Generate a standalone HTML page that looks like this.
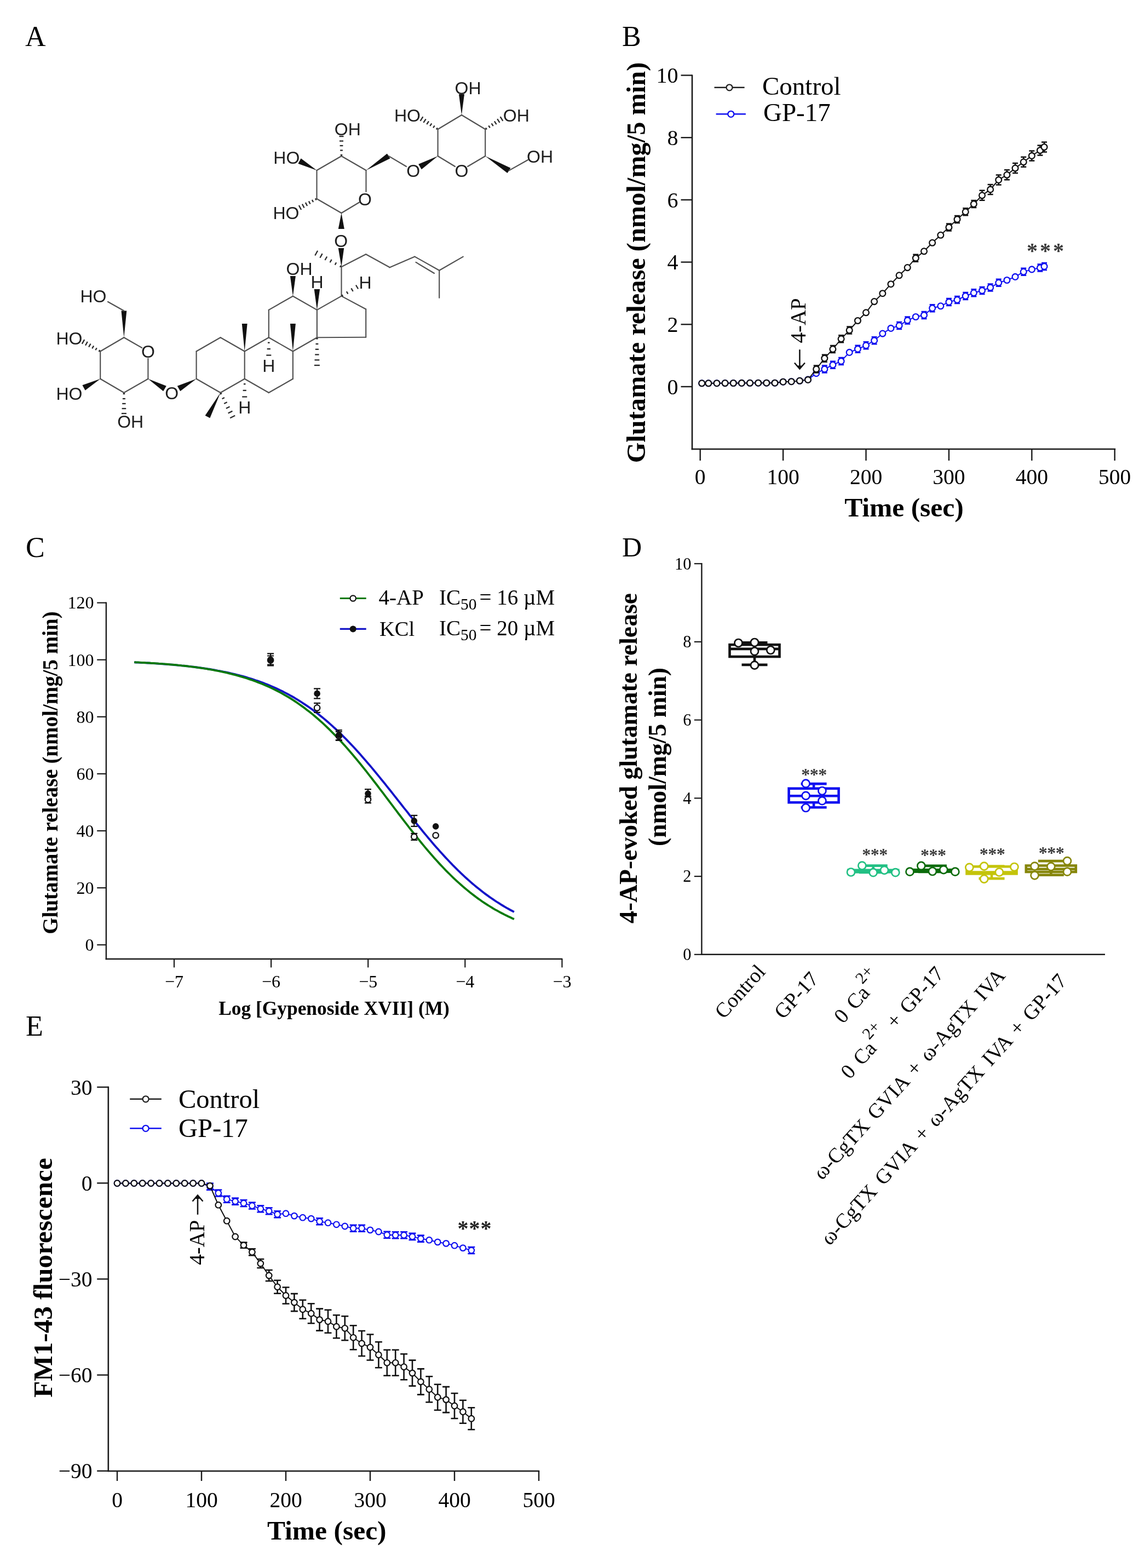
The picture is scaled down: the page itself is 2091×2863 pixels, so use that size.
<!DOCTYPE html>
<html><head><meta charset="utf-8"><title>Figure</title>
<style>html,body{margin:0;padding:0;background:#fff;overflow:hidden;width:2091px;height:2863px;}svg{display:block;}</style></head>
<body><svg width="2091" height="2863" viewBox="0 0 2091 2863">
<rect width="2091" height="2863" fill="#fff"/>
<text x="46" y="83.5" font-size="52" font-family="'Liberation Serif','Times New Roman',serif" text-anchor="start" fill="#000" >A</text>
<line x1="358.6" y1="691.8" x2="358.6" y2="641.5" stroke="#505050" stroke-width="2.15" stroke-linecap="round"/>
<line x1="358.6" y1="641.5" x2="402.6" y2="616.3" stroke="#505050" stroke-width="2.15" stroke-linecap="round"/>
<line x1="402.6" y1="616.3" x2="446.7" y2="641.5" stroke="#505050" stroke-width="2.15" stroke-linecap="round"/>
<line x1="446.7" y1="641.5" x2="446.7" y2="691.8" stroke="#505050" stroke-width="2.15" stroke-linecap="round"/>
<line x1="446.7" y1="691.8" x2="402.6" y2="717" stroke="#505050" stroke-width="2.15" stroke-linecap="round"/>
<line x1="402.6" y1="717" x2="358.6" y2="691.8" stroke="#505050" stroke-width="2.15" stroke-linecap="round"/>
<line x1="446.7" y1="641.5" x2="490.8" y2="616.3" stroke="#505050" stroke-width="2.15" stroke-linecap="round"/>
<line x1="490.8" y1="616.3" x2="534.9" y2="641.5" stroke="#505050" stroke-width="2.15" stroke-linecap="round"/>
<line x1="534.9" y1="641.5" x2="534.9" y2="691.8" stroke="#505050" stroke-width="2.15" stroke-linecap="round"/>
<line x1="534.9" y1="691.8" x2="490.8" y2="717" stroke="#505050" stroke-width="2.15" stroke-linecap="round"/>
<line x1="490.8" y1="717" x2="446.7" y2="691.8" stroke="#505050" stroke-width="2.15" stroke-linecap="round"/>
<line x1="490.8" y1="616.3" x2="490.8" y2="565.9" stroke="#505050" stroke-width="2.15" stroke-linecap="round"/>
<line x1="490.8" y1="565.9" x2="534.9" y2="540.7" stroke="#505050" stroke-width="2.15" stroke-linecap="round"/>
<line x1="534.9" y1="540.7" x2="578.9" y2="565.9" stroke="#505050" stroke-width="2.15" stroke-linecap="round"/>
<line x1="578.9" y1="565.9" x2="578.9" y2="616.3" stroke="#505050" stroke-width="2.15" stroke-linecap="round"/>
<line x1="578.9" y1="616.3" x2="534.9" y2="641.5" stroke="#505050" stroke-width="2.15" stroke-linecap="round"/>
<line x1="578.9" y1="616.3" x2="668.2" y2="615.7" stroke="#505050" stroke-width="2.15" stroke-linecap="round"/>
<line x1="668.2" y1="615.7" x2="668.2" y2="564.5" stroke="#505050" stroke-width="2.15" stroke-linecap="round"/>
<line x1="668.2" y1="564.5" x2="623.5" y2="540.6" stroke="#505050" stroke-width="2.15" stroke-linecap="round"/>
<line x1="623.5" y1="540.6" x2="578.9" y2="565.9" stroke="#505050" stroke-width="2.15" stroke-linecap="round"/>
<line x1="623.5" y1="540.6" x2="623.5" y2="487.2" stroke="#505050" stroke-width="2.15" stroke-linecap="round"/>
<line x1="623.5" y1="487.2" x2="668.2" y2="464.3" stroke="#505050" stroke-width="2.15" stroke-linecap="round"/>
<line x1="668.2" y1="464.3" x2="711.8" y2="488.3" stroke="#505050" stroke-width="2.15" stroke-linecap="round"/>
<line x1="711.8" y1="488.3" x2="757.5" y2="468.6" stroke="#505050" stroke-width="2.15" stroke-linecap="round"/>
<line x1="757.5" y1="468.6" x2="802.2" y2="493.7" stroke="#505050" stroke-width="2.15" stroke-linecap="round"/>
<line x1="802.2" y1="493.7" x2="845.8" y2="468.6" stroke="#505050" stroke-width="2.15" stroke-linecap="round"/>
<line x1="802.2" y1="493.7" x2="802.2" y2="543.8" stroke="#505050" stroke-width="2.15" stroke-linecap="round"/>
<line x1="759.5" y1="478.9" x2="793" y2="499" stroke="#505050" stroke-width="2.15" stroke-linecap="round"/>
<polygon points="446.7,641.5 451.6,591.1 441.8,591.1" fill="#111"/>
<polygon points="534.9,641.5 539.9,591.1 529.9,591.1" fill="#111"/>
<line x1="580.7" y1="618.3" x2="577.1" y2="618.3" stroke="#2a2a2a" stroke-width="2.3" />
<line x1="581.3" y1="628" x2="576.5" y2="628" stroke="#2a2a2a" stroke-width="2.3" />
<line x1="582" y1="637.8" x2="575.8" y2="637.8" stroke="#2a2a2a" stroke-width="2.3" />
<line x1="582.6" y1="647.5" x2="575.2" y2="647.5" stroke="#2a2a2a" stroke-width="2.3" />
<line x1="583.3" y1="657.3" x2="574.5" y2="657.3" stroke="#2a2a2a" stroke-width="2.3" />
<line x1="583.9" y1="667" x2="573.9" y2="667" stroke="#2a2a2a" stroke-width="2.3" />
<line x1="492.6" y1="625.7" x2="489" y2="625.7" stroke="#2a2a2a" stroke-width="2.3" />
<line x1="493.9" y1="637.1" x2="487.7" y2="637.1" stroke="#2a2a2a" stroke-width="2.3" />
<line x1="495.3" y1="648.6" x2="486.3" y2="648.6" stroke="#2a2a2a" stroke-width="2.3" />
<text x="490.8" y="678.9" font-size="32" font-family="'Liberation Sans',Arial,sans-serif" text-anchor="middle" fill="#1e1e1e" >H</text>
<line x1="448.5" y1="701.2" x2="444.9" y2="701.2" stroke="#2a2a2a" stroke-width="2.3" />
<line x1="449.8" y1="712.9" x2="443.6" y2="712.9" stroke="#2a2a2a" stroke-width="2.3" />
<line x1="451.2" y1="724.5" x2="442.2" y2="724.5" stroke="#2a2a2a" stroke-width="2.3" />
<text x="446.7" y="755.2" font-size="32" font-family="'Liberation Sans',Arial,sans-serif" text-anchor="middle" fill="#1e1e1e" >H</text>
<polygon points="402.6,717 374.6,758.7 383.4,763.3" fill="#111"/>
<line x1="405.1" y1="718" x2="401.9" y2="719.6" stroke="#2a2a2a" stroke-width="2.3" />
<line x1="409.9" y1="726.1" x2="405.6" y2="728.3" stroke="#2a2a2a" stroke-width="2.3" />
<line x1="414.7" y1="734.3" x2="409.2" y2="737.1" stroke="#2a2a2a" stroke-width="2.3" />
<line x1="419.5" y1="742.4" x2="412.9" y2="745.8" stroke="#2a2a2a" stroke-width="2.3" />
<line x1="424.4" y1="750.6" x2="416.6" y2="754.5" stroke="#2a2a2a" stroke-width="2.3" />
<line x1="429.2" y1="758.8" x2="420.2" y2="763.2" stroke="#2a2a2a" stroke-width="2.3" />
<polygon points="534.9,540.7 539.9,504 529.9,504" fill="#111"/>
<text x="546.6" y="501.9" font-size="32" font-family="'Liberation Sans',Arial,sans-serif" text-anchor="middle" fill="#1e1e1e" >OH</text>
<polygon points="578.9,565.9 584.1,528 573.7,528" fill="#111"/>
<text x="579" y="526.3" font-size="32" font-family="'Liberation Sans',Arial,sans-serif" text-anchor="middle" fill="#1e1e1e" >H</text>
<line x1="624.3" y1="538" x2="626.1" y2="541.1" stroke="#2a2a2a" stroke-width="2.3" />
<line x1="632.9" y1="532.2" x2="635.4" y2="536.6" stroke="#2a2a2a" stroke-width="2.3" />
<line x1="641.4" y1="526.4" x2="644.7" y2="532" stroke="#2a2a2a" stroke-width="2.3" />
<line x1="650" y1="520.5" x2="654" y2="527.5" stroke="#2a2a2a" stroke-width="2.3" />
<text x="667.1" y="526.5" font-size="32" font-family="'Liberation Sans',Arial,sans-serif" text-anchor="middle" fill="#1e1e1e" >H</text>
<line x1="620.9" y1="487.8" x2="622.6" y2="484.7" stroke="#2a2a2a" stroke-width="2.3" />
<line x1="611.8" y1="483.6" x2="614.1" y2="479.3" stroke="#2a2a2a" stroke-width="2.3" />
<line x1="602.6" y1="479.3" x2="605.6" y2="473.9" stroke="#2a2a2a" stroke-width="2.3" />
<line x1="593.5" y1="475" x2="597.1" y2="468.5" stroke="#2a2a2a" stroke-width="2.3" />
<line x1="584.4" y1="470.8" x2="588.6" y2="463.1" stroke="#2a2a2a" stroke-width="2.3" />
<line x1="575.3" y1="466.5" x2="580.1" y2="457.7" stroke="#2a2a2a" stroke-width="2.3" />
<polygon points="623.5,487.2 628.2,452.9 617.8,453.1" fill="#111"/>
<text x="622.6" y="450.7" font-size="32" font-family="'Liberation Sans',Arial,sans-serif" text-anchor="middle" fill="#1e1e1e" >O</text>
<polygon points="358.6,691.8 323.8,704.7 329.2,714.3" fill="#111"/>
<text x="313.7" y="728.5" font-size="32" font-family="'Liberation Sans',Arial,sans-serif" text-anchor="middle" fill="#1e1e1e" >O</text>
<line x1="226.4" y1="616.3" x2="259.1" y2="635" stroke="#505050" stroke-width="2.15" stroke-linecap="round"/>
<line x1="270.4" y1="654.5" x2="270.4" y2="691.8" stroke="#505050" stroke-width="2.15" stroke-linecap="round"/>
<line x1="270.4" y1="691.8" x2="226.4" y2="717" stroke="#505050" stroke-width="2.15" stroke-linecap="round"/>
<line x1="226.4" y1="717" x2="183.2" y2="691.8" stroke="#505050" stroke-width="2.15" stroke-linecap="round"/>
<line x1="183.2" y1="691.8" x2="183.2" y2="641.5" stroke="#505050" stroke-width="2.15" stroke-linecap="round"/>
<line x1="183.2" y1="641.5" x2="226.4" y2="616.3" stroke="#505050" stroke-width="2.15" stroke-linecap="round"/>
<text x="270.4" y="653" font-size="32" font-family="'Liberation Sans',Arial,sans-serif" text-anchor="middle" fill="#1e1e1e" >O</text>
<polygon points="270.4,691.8 298.2,714.3 303.8,704.7" fill="#111"/>
<polygon points="226.4,616.3 231.3,567.5 221.5,567.5" fill="#111"/>
<line x1="226.4" y1="567.5" x2="197" y2="551" stroke="#505050" stroke-width="2.15" stroke-linecap="round"/>
<text x="170.5" y="552.2" font-size="32" font-family="'Liberation Sans',Arial,sans-serif" text-anchor="middle" fill="#1e1e1e" >HO</text>
<line x1="180.6" y1="642.1" x2="182.3" y2="639" stroke="#2a2a2a" stroke-width="2.3" />
<line x1="174.4" y1="639.3" x2="176.7" y2="635.2" stroke="#2a2a2a" stroke-width="2.3" />
<line x1="168.3" y1="636.4" x2="171.1" y2="631.4" stroke="#2a2a2a" stroke-width="2.3" />
<line x1="162.1" y1="633.6" x2="165.5" y2="627.6" stroke="#2a2a2a" stroke-width="2.3" />
<line x1="156" y1="630.8" x2="159.8" y2="623.9" stroke="#2a2a2a" stroke-width="2.3" />
<line x1="149.8" y1="627.9" x2="154.2" y2="620.1" stroke="#2a2a2a" stroke-width="2.3" />
<text x="126.4" y="629.3" font-size="32" font-family="'Liberation Sans',Arial,sans-serif" text-anchor="middle" fill="#1e1e1e" >HO</text>
<polygon points="183.2,691.8 150.4,703.2 155.6,712.8" fill="#111"/>
<text x="126.4" y="730.1" font-size="32" font-family="'Liberation Sans',Arial,sans-serif" text-anchor="middle" fill="#1e1e1e" >HO</text>
<line x1="228.2" y1="719" x2="224.6" y2="719" stroke="#2a2a2a" stroke-width="2.3" />
<line x1="228.9" y1="728" x2="223.9" y2="728" stroke="#2a2a2a" stroke-width="2.3" />
<line x1="229.6" y1="737" x2="223.2" y2="737" stroke="#2a2a2a" stroke-width="2.3" />
<line x1="230.2" y1="746" x2="222.6" y2="746" stroke="#2a2a2a" stroke-width="2.3" />
<line x1="230.9" y1="755" x2="221.9" y2="755" stroke="#2a2a2a" stroke-width="2.3" />
<text x="238.2" y="780.5" font-size="32" font-family="'Liberation Sans',Arial,sans-serif" text-anchor="middle" fill="#1e1e1e" >OH</text>
<line x1="623.5" y1="285" x2="668.5" y2="311" stroke="#505050" stroke-width="2.15" stroke-linecap="round"/>
<line x1="668.5" y1="311" x2="668.5" y2="350" stroke="#505050" stroke-width="2.15" stroke-linecap="round"/>
<line x1="656" y1="369.5" x2="623.5" y2="389" stroke="#505050" stroke-width="2.15" stroke-linecap="round"/>
<line x1="623.5" y1="389" x2="578.5" y2="363" stroke="#505050" stroke-width="2.15" stroke-linecap="round"/>
<line x1="578.5" y1="363" x2="578.5" y2="311" stroke="#505050" stroke-width="2.15" stroke-linecap="round"/>
<line x1="578.5" y1="311" x2="623.5" y2="285" stroke="#505050" stroke-width="2.15" stroke-linecap="round"/>
<text x="666.5" y="374.5" font-size="32" font-family="'Liberation Sans',Arial,sans-serif" text-anchor="middle" fill="#1e1e1e" >O</text>
<polygon points="623.5,389 617.8,418 628.8,418" fill="#111"/>
<line x1="621.7" y1="283" x2="625.3" y2="283" stroke="#2a2a2a" stroke-width="2.3" />
<line x1="621.1" y1="274.5" x2="625.9" y2="274.5" stroke="#2a2a2a" stroke-width="2.3" />
<line x1="620.6" y1="266" x2="626.4" y2="266" stroke="#2a2a2a" stroke-width="2.3" />
<line x1="620" y1="257.5" x2="627" y2="257.5" stroke="#2a2a2a" stroke-width="2.3" />
<line x1="619.5" y1="249" x2="627.5" y2="249" stroke="#2a2a2a" stroke-width="2.3" />
<text x="634.8" y="247.2" font-size="32" font-family="'Liberation Sans',Arial,sans-serif" text-anchor="middle" fill="#1e1e1e" >OH</text>
<polygon points="578.5,311 549.6,289.2 544.4,298.8" fill="#111"/>
<text x="523.3" y="298.8" font-size="32" font-family="'Liberation Sans',Arial,sans-serif" text-anchor="middle" fill="#1e1e1e" >HO</text>
<line x1="577.6" y1="365.5" x2="575.9" y2="362.3" stroke="#2a2a2a" stroke-width="2.3" />
<line x1="572.1" y1="369" x2="569.9" y2="364.9" stroke="#2a2a2a" stroke-width="2.3" />
<line x1="566.6" y1="372.5" x2="563.9" y2="367.4" stroke="#2a2a2a" stroke-width="2.3" />
<line x1="561.1" y1="376" x2="557.9" y2="369.9" stroke="#2a2a2a" stroke-width="2.3" />
<line x1="555.6" y1="379.5" x2="551.9" y2="372.5" stroke="#2a2a2a" stroke-width="2.3" />
<line x1="550.1" y1="383" x2="545.9" y2="375" stroke="#2a2a2a" stroke-width="2.3" />
<text x="522.4" y="400.4" font-size="32" font-family="'Liberation Sans',Arial,sans-serif" text-anchor="middle" fill="#1e1e1e" >HO</text>
<polygon points="668.5,311 712.5,289.2 706.9,280.4" fill="#111"/>
<line x1="709.7" y1="284.8" x2="742" y2="304" stroke="#505050" stroke-width="2.15" stroke-linecap="round"/>
<text x="754.6" y="323" font-size="32" font-family="'Liberation Sans',Arial,sans-serif" text-anchor="middle" fill="#1e1e1e" >O</text>
<line x1="843" y1="210" x2="886.2" y2="236" stroke="#505050" stroke-width="2.15" stroke-linecap="round"/>
<line x1="886.2" y1="236" x2="886.2" y2="285" stroke="#505050" stroke-width="2.15" stroke-linecap="round"/>
<line x1="886.2" y1="285" x2="854" y2="304" stroke="#505050" stroke-width="2.15" stroke-linecap="round"/>
<line x1="831" y1="304" x2="799.6" y2="285" stroke="#505050" stroke-width="2.15" stroke-linecap="round"/>
<line x1="799.6" y1="285" x2="799.6" y2="236" stroke="#505050" stroke-width="2.15" stroke-linecap="round"/>
<line x1="799.6" y1="236" x2="843" y2="210" stroke="#505050" stroke-width="2.15" stroke-linecap="round"/>
<text x="842.9" y="323" font-size="32" font-family="'Liberation Sans',Arial,sans-serif" text-anchor="middle" fill="#1e1e1e" >O</text>
<polygon points="799.6,285 764.2,299.8 769.8,309.2" fill="#111"/>
<polygon points="843,210 848,172 838,172" fill="#111"/>
<text x="854.5" y="171.5" font-size="32" font-family="'Liberation Sans',Arial,sans-serif" text-anchor="middle" fill="#1e1e1e" >OH</text>
<line x1="796.9" y1="236.4" x2="798.9" y2="233.4" stroke="#2a2a2a" stroke-width="2.3" />
<line x1="791.1" y1="233.3" x2="793.6" y2="229.4" stroke="#2a2a2a" stroke-width="2.3" />
<line x1="785.2" y1="230.2" x2="788.3" y2="225.3" stroke="#2a2a2a" stroke-width="2.3" />
<line x1="779.3" y1="227" x2="783" y2="221.3" stroke="#2a2a2a" stroke-width="2.3" />
<line x1="773.4" y1="223.9" x2="777.7" y2="217.3" stroke="#2a2a2a" stroke-width="2.3" />
<line x1="767.6" y1="220.8" x2="772.4" y2="213.2" stroke="#2a2a2a" stroke-width="2.3" />
<text x="743.9" y="222.2" font-size="32" font-family="'Liberation Sans',Arial,sans-serif" text-anchor="middle" fill="#1e1e1e" >HO</text>
<line x1="886.9" y1="233.4" x2="888.9" y2="236.4" stroke="#2a2a2a" stroke-width="2.3" />
<line x1="892.3" y1="229.4" x2="894.8" y2="233.3" stroke="#2a2a2a" stroke-width="2.3" />
<line x1="897.6" y1="225.3" x2="900.7" y2="230.2" stroke="#2a2a2a" stroke-width="2.3" />
<line x1="902.9" y1="221.3" x2="906.6" y2="227.1" stroke="#2a2a2a" stroke-width="2.3" />
<line x1="908.2" y1="217.2" x2="912.5" y2="223.9" stroke="#2a2a2a" stroke-width="2.3" />
<line x1="913.6" y1="213.2" x2="918.4" y2="220.8" stroke="#2a2a2a" stroke-width="2.3" />
<text x="942.8" y="222.2" font-size="32" font-family="'Liberation Sans',Arial,sans-serif" text-anchor="middle" fill="#1e1e1e" >OH</text>
<polygon points="886.2,285 926.6,316.1 932.4,306.7" fill="#111"/>
<line x1="929.5" y1="311.4" x2="964" y2="292" stroke="#505050" stroke-width="2.15" stroke-linecap="round"/>
<text x="986" y="297.1" font-size="32" font-family="'Liberation Sans',Arial,sans-serif" text-anchor="middle" fill="#1e1e1e" >OH</text>
<text x="1136" y="83.5" font-size="52" font-family="'Liberation Serif','Times New Roman',serif" text-anchor="start" fill="#000" >B</text>
<line x1="1264" y1="136.5" x2="1264" y2="821.2" stroke="#1a1a1a" stroke-width="2.6" />
<line x1="1262.7" y1="820" x2="2037.2" y2="820" stroke="#1a1a1a" stroke-width="2.6" />
<line x1="1243.5" y1="137.5" x2="1264" y2="137.5" stroke="#1a1a1a" stroke-width="2.4" />
<text x="1238.5" y="151.1" font-size="40" font-family="'Liberation Serif','Times New Roman',serif" text-anchor="end" fill="#000" >10</text>
<line x1="1243.5" y1="251.2" x2="1264" y2="251.2" stroke="#1a1a1a" stroke-width="2.4" />
<text x="1238.5" y="264.8" font-size="40" font-family="'Liberation Serif','Times New Roman',serif" text-anchor="end" fill="#000" >8</text>
<line x1="1243.5" y1="364.9" x2="1264" y2="364.9" stroke="#1a1a1a" stroke-width="2.4" />
<text x="1238.5" y="378.5" font-size="40" font-family="'Liberation Serif','Times New Roman',serif" text-anchor="end" fill="#000" >6</text>
<line x1="1243.5" y1="478.6" x2="1264" y2="478.6" stroke="#1a1a1a" stroke-width="2.4" />
<text x="1238.5" y="492.2" font-size="40" font-family="'Liberation Serif','Times New Roman',serif" text-anchor="end" fill="#000" >4</text>
<line x1="1243.5" y1="592.3" x2="1264" y2="592.3" stroke="#1a1a1a" stroke-width="2.4" />
<text x="1238.5" y="605.9" font-size="40" font-family="'Liberation Serif','Times New Roman',serif" text-anchor="end" fill="#000" >2</text>
<line x1="1243.5" y1="706" x2="1264" y2="706" stroke="#1a1a1a" stroke-width="2.4" />
<text x="1238.5" y="719.6" font-size="40" font-family="'Liberation Serif','Times New Roman',serif" text-anchor="end" fill="#000" >0</text>
<line x1="1278.7" y1="820" x2="1278.7" y2="841" stroke="#1a1a1a" stroke-width="2.4" />
<text x="1278.7" y="883.7" font-size="39.5" font-family="'Liberation Serif','Times New Roman',serif" text-anchor="middle" fill="#000" >0</text>
<line x1="1430.1" y1="820" x2="1430.1" y2="841" stroke="#1a1a1a" stroke-width="2.4" />
<text x="1430.1" y="883.7" font-size="39.5" font-family="'Liberation Serif','Times New Roman',serif" text-anchor="middle" fill="#000" >100</text>
<line x1="1581.5" y1="820" x2="1581.5" y2="841" stroke="#1a1a1a" stroke-width="2.4" />
<text x="1581.5" y="883.7" font-size="39.5" font-family="'Liberation Serif','Times New Roman',serif" text-anchor="middle" fill="#000" >200</text>
<line x1="1732.9" y1="820" x2="1732.9" y2="841" stroke="#1a1a1a" stroke-width="2.4" />
<text x="1732.9" y="883.7" font-size="39.5" font-family="'Liberation Serif','Times New Roman',serif" text-anchor="middle" fill="#000" >300</text>
<line x1="1884.3" y1="820" x2="1884.3" y2="841" stroke="#1a1a1a" stroke-width="2.4" />
<text x="1884.3" y="883.7" font-size="39.5" font-family="'Liberation Serif','Times New Roman',serif" text-anchor="middle" fill="#000" >400</text>
<line x1="2035.7" y1="820" x2="2035.7" y2="841" stroke="#1a1a1a" stroke-width="2.4" />
<text x="2035.7" y="883.7" font-size="39.5" font-family="'Liberation Serif','Times New Roman',serif" text-anchor="middle" fill="#000" >500</text>
<text x="1651" y="943" font-size="49.5" font-family="'Liberation Serif','Times New Roman',serif" text-anchor="middle" fill="#000" font-weight="bold" >Time (sec)</text>
<text x="1178" y="479.5" font-size="48.4" font-family="'Liberation Serif','Times New Roman',serif" text-anchor="middle" fill="#000" font-weight="bold" transform="rotate(-90 1178 479.5)" >Glutamate release (nmol/mg/5 min)</text>
<polyline points="1281.7,699.8 1293.8,699.8 1309,699.7 1324.1,699.6 1339.3,699.5 1354.4,699.4 1369.5,699.3 1384.7,699.2 1399.8,699.2 1415,699.2 1430.1,697.2 1445.2,696.7 1460.4,695.3 1475.5,693 1490.7,681.7 1505.8,674 1520.9,666.2 1536.1,659.5 1551.2,643.4 1566.4,637.2 1581.5,630.8 1596.6,621.7 1611.8,609.1 1626.9,599.4 1642.1,594.6 1657.2,584.9 1672.3,578.5 1687.5,575.5 1702.6,562.7 1717.8,558.8 1732.9,551.4 1748,547.5 1763.2,540.5 1778.3,534.8 1793.5,530.5 1808.6,525 1823.7,516.3 1838.9,511.5 1854,505.4 1869.2,496.3 1884.3,491.9 1899.4,489 1907,486.4" fill="none" stroke="#1010f0" stroke-width="2.0"/>
<path d="M1505.8,667.5V680.5M1500.8,667.5H1510.8M1500.8,680.5H1510.8" stroke="#1010f0" stroke-width="2.5" fill="none"/>
<path d="M1520.9,659.7V672.7M1515.9,659.7H1525.9M1515.9,672.7H1525.9" stroke="#1010f0" stroke-width="2.5" fill="none"/>
<path d="M1536.1,653V666M1531.1,653H1541.1M1531.1,666H1541.1" stroke="#1010f0" stroke-width="2.5" fill="none"/>
<path d="M1566.4,630.7V643.7M1561.4,630.7H1571.4M1561.4,643.7H1571.4" stroke="#1010f0" stroke-width="2.5" fill="none"/>
<path d="M1581.5,624.3V637.3M1576.5,624.3H1586.5M1576.5,637.3H1586.5" stroke="#1010f0" stroke-width="2.5" fill="none"/>
<path d="M1596.6,615.2V628.2M1591.6,615.2H1601.6M1591.6,628.2H1601.6" stroke="#1010f0" stroke-width="2.5" fill="none"/>
<path d="M1642.1,588.1V601.1M1637.1,588.1H1647.1M1637.1,601.1H1647.1" stroke="#1010f0" stroke-width="2.5" fill="none"/>
<path d="M1657.2,578.4V591.4M1652.2,578.4H1662.2M1652.2,591.4H1662.2" stroke="#1010f0" stroke-width="2.5" fill="none"/>
<path d="M1687.5,569V582M1682.5,569H1692.5M1682.5,582H1692.5" stroke="#1010f0" stroke-width="2.5" fill="none"/>
<path d="M1702.6,556.2V569.2M1697.6,556.2H1707.6M1697.6,569.2H1707.6" stroke="#1010f0" stroke-width="2.5" fill="none"/>
<path d="M1732.9,544.9V557.9M1727.9,544.9H1737.9M1727.9,557.9H1737.9" stroke="#1010f0" stroke-width="2.5" fill="none"/>
<path d="M1748,541V554M1743,541H1753M1743,554H1753" stroke="#1010f0" stroke-width="2.5" fill="none"/>
<path d="M1763.2,534V547M1758.2,534H1768.2M1758.2,547H1768.2" stroke="#1010f0" stroke-width="2.5" fill="none"/>
<path d="M1778.3,528.3V541.3M1773.3,528.3H1783.3M1773.3,541.3H1783.3" stroke="#1010f0" stroke-width="2.5" fill="none"/>
<path d="M1793.5,524V537M1788.5,524H1798.5M1788.5,537H1798.5" stroke="#1010f0" stroke-width="2.5" fill="none"/>
<path d="M1808.6,518.5V531.5M1803.6,518.5H1813.6M1803.6,531.5H1813.6" stroke="#1010f0" stroke-width="2.5" fill="none"/>
<path d="M1823.7,509.8V522.8M1818.7,509.8H1828.7M1818.7,522.8H1828.7" stroke="#1010f0" stroke-width="2.5" fill="none"/>
<path d="M1869.2,489.8V502.8M1864.2,489.8H1874.2M1864.2,502.8H1874.2" stroke="#1010f0" stroke-width="2.5" fill="none"/>
<path d="M1899.4,482.5V495.5M1894.4,482.5H1904.4M1894.4,495.5H1904.4" stroke="#1010f0" stroke-width="2.5" fill="none"/>
<path d="M1907,479.9V492.9M1902,479.9H1912M1902,492.9H1912" stroke="#1010f0" stroke-width="2.5" fill="none"/>
<circle cx="1281.7" cy="699.8" r="5.4" fill="#fff" stroke="#1010f0" stroke-width="2.3"/>
<circle cx="1293.8" cy="699.8" r="5.4" fill="#fff" stroke="#1010f0" stroke-width="2.3"/>
<circle cx="1309" cy="699.7" r="5.4" fill="#fff" stroke="#1010f0" stroke-width="2.3"/>
<circle cx="1324.1" cy="699.6" r="5.4" fill="#fff" stroke="#1010f0" stroke-width="2.3"/>
<circle cx="1339.3" cy="699.5" r="5.4" fill="#fff" stroke="#1010f0" stroke-width="2.3"/>
<circle cx="1354.4" cy="699.4" r="5.4" fill="#fff" stroke="#1010f0" stroke-width="2.3"/>
<circle cx="1369.5" cy="699.3" r="5.4" fill="#fff" stroke="#1010f0" stroke-width="2.3"/>
<circle cx="1384.7" cy="699.2" r="5.4" fill="#fff" stroke="#1010f0" stroke-width="2.3"/>
<circle cx="1399.8" cy="699.2" r="5.4" fill="#fff" stroke="#1010f0" stroke-width="2.3"/>
<circle cx="1415" cy="699.2" r="5.4" fill="#fff" stroke="#1010f0" stroke-width="2.3"/>
<circle cx="1430.1" cy="697.2" r="5.4" fill="#fff" stroke="#1010f0" stroke-width="2.3"/>
<circle cx="1445.2" cy="696.7" r="5.4" fill="#fff" stroke="#1010f0" stroke-width="2.3"/>
<circle cx="1460.4" cy="695.3" r="5.4" fill="#fff" stroke="#1010f0" stroke-width="2.3"/>
<circle cx="1475.5" cy="693" r="5.4" fill="#fff" stroke="#1010f0" stroke-width="2.3"/>
<circle cx="1490.7" cy="681.7" r="5.4" fill="#fff" stroke="#1010f0" stroke-width="2.3"/>
<circle cx="1505.8" cy="674" r="5.4" fill="#fff" stroke="#1010f0" stroke-width="2.3"/>
<circle cx="1520.9" cy="666.2" r="5.4" fill="#fff" stroke="#1010f0" stroke-width="2.3"/>
<circle cx="1536.1" cy="659.5" r="5.4" fill="#fff" stroke="#1010f0" stroke-width="2.3"/>
<circle cx="1551.2" cy="643.4" r="5.4" fill="#fff" stroke="#1010f0" stroke-width="2.3"/>
<circle cx="1566.4" cy="637.2" r="5.4" fill="#fff" stroke="#1010f0" stroke-width="2.3"/>
<circle cx="1581.5" cy="630.8" r="5.4" fill="#fff" stroke="#1010f0" stroke-width="2.3"/>
<circle cx="1596.6" cy="621.7" r="5.4" fill="#fff" stroke="#1010f0" stroke-width="2.3"/>
<circle cx="1611.8" cy="609.1" r="5.4" fill="#fff" stroke="#1010f0" stroke-width="2.3"/>
<circle cx="1626.9" cy="599.4" r="5.4" fill="#fff" stroke="#1010f0" stroke-width="2.3"/>
<circle cx="1642.1" cy="594.6" r="5.4" fill="#fff" stroke="#1010f0" stroke-width="2.3"/>
<circle cx="1657.2" cy="584.9" r="5.4" fill="#fff" stroke="#1010f0" stroke-width="2.3"/>
<circle cx="1672.3" cy="578.5" r="5.4" fill="#fff" stroke="#1010f0" stroke-width="2.3"/>
<circle cx="1687.5" cy="575.5" r="5.4" fill="#fff" stroke="#1010f0" stroke-width="2.3"/>
<circle cx="1702.6" cy="562.7" r="5.4" fill="#fff" stroke="#1010f0" stroke-width="2.3"/>
<circle cx="1717.8" cy="558.8" r="5.4" fill="#fff" stroke="#1010f0" stroke-width="2.3"/>
<circle cx="1732.9" cy="551.4" r="5.4" fill="#fff" stroke="#1010f0" stroke-width="2.3"/>
<circle cx="1748" cy="547.5" r="5.4" fill="#fff" stroke="#1010f0" stroke-width="2.3"/>
<circle cx="1763.2" cy="540.5" r="5.4" fill="#fff" stroke="#1010f0" stroke-width="2.3"/>
<circle cx="1778.3" cy="534.8" r="5.4" fill="#fff" stroke="#1010f0" stroke-width="2.3"/>
<circle cx="1793.5" cy="530.5" r="5.4" fill="#fff" stroke="#1010f0" stroke-width="2.3"/>
<circle cx="1808.6" cy="525" r="5.4" fill="#fff" stroke="#1010f0" stroke-width="2.3"/>
<circle cx="1823.7" cy="516.3" r="5.4" fill="#fff" stroke="#1010f0" stroke-width="2.3"/>
<circle cx="1838.9" cy="511.5" r="5.4" fill="#fff" stroke="#1010f0" stroke-width="2.3"/>
<circle cx="1854" cy="505.4" r="5.4" fill="#fff" stroke="#1010f0" stroke-width="2.3"/>
<circle cx="1869.2" cy="496.3" r="5.4" fill="#fff" stroke="#1010f0" stroke-width="2.3"/>
<circle cx="1884.3" cy="491.9" r="5.4" fill="#fff" stroke="#1010f0" stroke-width="2.3"/>
<circle cx="1899.4" cy="489" r="5.4" fill="#fff" stroke="#1010f0" stroke-width="2.3"/>
<circle cx="1907" cy="486.4" r="5.4" fill="#fff" stroke="#1010f0" stroke-width="2.3"/>
<polyline points="1281.7,699.8 1293.8,699.8 1309,699.7 1324.1,699.6 1339.3,699.5 1354.4,699.4 1369.5,699.3 1384.7,699.2 1399.8,699.2 1415,699.2 1430.1,697.2 1445.2,696.7 1460.4,695.3 1475.5,693.4 1490.7,674 1505.8,654.2 1520.9,637.6 1536.1,618.8 1551.2,602.9 1566.4,585.5 1581.5,570.8 1596.6,550.6 1611.8,535.7 1626.9,518.7 1642.1,502.8 1657.2,488.6 1672.3,471.2 1687.5,458.8 1702.6,443.3 1717.8,429.3 1732.9,415 1748,400.4 1763.2,386.8 1778.3,372.5 1793.5,356.8 1808.6,345.9 1823.7,328.4 1838.9,319.3 1854,307.1 1869.2,295.8 1884.3,284.4 1899.4,274.5 1907,268.5" fill="none" stroke="#111" stroke-width="2.0"/>
<path d="M1490.7,667.5V680.5M1485.7,667.5H1495.7M1485.7,680.5H1495.7" stroke="#111" stroke-width="2.5" fill="none"/>
<path d="M1505.8,647.7V660.7M1500.8,647.7H1510.8M1500.8,660.7H1510.8" stroke="#111" stroke-width="2.5" fill="none"/>
<path d="M1520.9,631.1V644.1M1515.9,631.1H1525.9M1515.9,644.1H1525.9" stroke="#111" stroke-width="2.5" fill="none"/>
<path d="M1536.1,612.3V625.3M1531.1,612.3H1541.1M1531.1,625.3H1541.1" stroke="#111" stroke-width="2.5" fill="none"/>
<path d="M1551.2,596.4V609.4M1546.2,596.4H1556.2M1546.2,609.4H1556.2" stroke="#111" stroke-width="2.5" fill="none"/>
<path d="M1672.3,464.7V477.7M1667.3,464.7H1677.3M1667.3,477.7H1677.3" stroke="#111" stroke-width="2.5" fill="none"/>
<path d="M1732.9,408.5V421.5M1727.9,408.5H1737.9M1727.9,421.5H1737.9" stroke="#111" stroke-width="2.5" fill="none"/>
<path d="M1748,393.9V406.9M1743,393.9H1753M1743,406.9H1753" stroke="#111" stroke-width="2.5" fill="none"/>
<path d="M1763.2,380.3V393.3M1758.2,380.3H1768.2M1758.2,393.3H1768.2" stroke="#111" stroke-width="2.5" fill="none"/>
<path d="M1778.3,366V379M1773.3,366H1783.3M1773.3,379H1783.3" stroke="#111" stroke-width="2.5" fill="none"/>
<path d="M1793.5,347.8V365.8M1788.5,347.8H1798.5M1788.5,365.8H1798.5" stroke="#111" stroke-width="2.5" fill="none"/>
<path d="M1808.6,336.9V354.9M1803.6,336.9H1813.6M1803.6,354.9H1813.6" stroke="#111" stroke-width="2.5" fill="none"/>
<path d="M1823.7,319.4V337.4M1818.7,319.4H1828.7M1818.7,337.4H1828.7" stroke="#111" stroke-width="2.5" fill="none"/>
<path d="M1838.9,310.3V328.3M1833.9,310.3H1843.9M1833.9,328.3H1843.9" stroke="#111" stroke-width="2.5" fill="none"/>
<path d="M1854,298.1V316.1M1849,298.1H1859M1849,316.1H1859" stroke="#111" stroke-width="2.5" fill="none"/>
<path d="M1869.2,286.8V304.8M1864.2,286.8H1874.2M1864.2,304.8H1874.2" stroke="#111" stroke-width="2.5" fill="none"/>
<path d="M1884.3,275.4V293.4M1879.3,275.4H1889.3M1879.3,293.4H1889.3" stroke="#111" stroke-width="2.5" fill="none"/>
<path d="M1899.4,265.5V283.5M1894.4,265.5H1904.4M1894.4,283.5H1904.4" stroke="#111" stroke-width="2.5" fill="none"/>
<path d="M1907,259.5V277.5M1902,259.5H1912M1902,277.5H1912" stroke="#111" stroke-width="2.5" fill="none"/>
<circle cx="1281.7" cy="699.8" r="5.4" fill="#fff" stroke="#111" stroke-width="2.3"/>
<circle cx="1293.8" cy="699.8" r="5.4" fill="#fff" stroke="#111" stroke-width="2.3"/>
<circle cx="1309" cy="699.7" r="5.4" fill="#fff" stroke="#111" stroke-width="2.3"/>
<circle cx="1324.1" cy="699.6" r="5.4" fill="#fff" stroke="#111" stroke-width="2.3"/>
<circle cx="1339.3" cy="699.5" r="5.4" fill="#fff" stroke="#111" stroke-width="2.3"/>
<circle cx="1354.4" cy="699.4" r="5.4" fill="#fff" stroke="#111" stroke-width="2.3"/>
<circle cx="1369.5" cy="699.3" r="5.4" fill="#fff" stroke="#111" stroke-width="2.3"/>
<circle cx="1384.7" cy="699.2" r="5.4" fill="#fff" stroke="#111" stroke-width="2.3"/>
<circle cx="1399.8" cy="699.2" r="5.4" fill="#fff" stroke="#111" stroke-width="2.3"/>
<circle cx="1415" cy="699.2" r="5.4" fill="#fff" stroke="#111" stroke-width="2.3"/>
<circle cx="1430.1" cy="697.2" r="5.4" fill="#fff" stroke="#111" stroke-width="2.3"/>
<circle cx="1445.2" cy="696.7" r="5.4" fill="#fff" stroke="#111" stroke-width="2.3"/>
<circle cx="1460.4" cy="695.3" r="5.4" fill="#fff" stroke="#111" stroke-width="2.3"/>
<circle cx="1475.5" cy="693.4" r="5.4" fill="#fff" stroke="#111" stroke-width="2.3"/>
<circle cx="1490.7" cy="674" r="5.4" fill="#fff" stroke="#111" stroke-width="2.3"/>
<circle cx="1505.8" cy="654.2" r="5.4" fill="#fff" stroke="#111" stroke-width="2.3"/>
<circle cx="1520.9" cy="637.6" r="5.4" fill="#fff" stroke="#111" stroke-width="2.3"/>
<circle cx="1536.1" cy="618.8" r="5.4" fill="#fff" stroke="#111" stroke-width="2.3"/>
<circle cx="1551.2" cy="602.9" r="5.4" fill="#fff" stroke="#111" stroke-width="2.3"/>
<circle cx="1566.4" cy="585.5" r="5.4" fill="#fff" stroke="#111" stroke-width="2.3"/>
<circle cx="1581.5" cy="570.8" r="5.4" fill="#fff" stroke="#111" stroke-width="2.3"/>
<circle cx="1596.6" cy="550.6" r="5.4" fill="#fff" stroke="#111" stroke-width="2.3"/>
<circle cx="1611.8" cy="535.7" r="5.4" fill="#fff" stroke="#111" stroke-width="2.3"/>
<circle cx="1626.9" cy="518.7" r="5.4" fill="#fff" stroke="#111" stroke-width="2.3"/>
<circle cx="1642.1" cy="502.8" r="5.4" fill="#fff" stroke="#111" stroke-width="2.3"/>
<circle cx="1657.2" cy="488.6" r="5.4" fill="#fff" stroke="#111" stroke-width="2.3"/>
<circle cx="1672.3" cy="471.2" r="5.4" fill="#fff" stroke="#111" stroke-width="2.3"/>
<circle cx="1687.5" cy="458.8" r="5.4" fill="#fff" stroke="#111" stroke-width="2.3"/>
<circle cx="1702.6" cy="443.3" r="5.4" fill="#fff" stroke="#111" stroke-width="2.3"/>
<circle cx="1717.8" cy="429.3" r="5.4" fill="#fff" stroke="#111" stroke-width="2.3"/>
<circle cx="1732.9" cy="415" r="5.4" fill="#fff" stroke="#111" stroke-width="2.3"/>
<circle cx="1748" cy="400.4" r="5.4" fill="#fff" stroke="#111" stroke-width="2.3"/>
<circle cx="1763.2" cy="386.8" r="5.4" fill="#fff" stroke="#111" stroke-width="2.3"/>
<circle cx="1778.3" cy="372.5" r="5.4" fill="#fff" stroke="#111" stroke-width="2.3"/>
<circle cx="1793.5" cy="356.8" r="5.4" fill="#fff" stroke="#111" stroke-width="2.3"/>
<circle cx="1808.6" cy="345.9" r="5.4" fill="#fff" stroke="#111" stroke-width="2.3"/>
<circle cx="1823.7" cy="328.4" r="5.4" fill="#fff" stroke="#111" stroke-width="2.3"/>
<circle cx="1838.9" cy="319.3" r="5.4" fill="#fff" stroke="#111" stroke-width="2.3"/>
<circle cx="1854" cy="307.1" r="5.4" fill="#fff" stroke="#111" stroke-width="2.3"/>
<circle cx="1869.2" cy="295.8" r="5.4" fill="#fff" stroke="#111" stroke-width="2.3"/>
<circle cx="1884.3" cy="284.4" r="5.4" fill="#fff" stroke="#111" stroke-width="2.3"/>
<circle cx="1899.4" cy="274.5" r="5.4" fill="#fff" stroke="#111" stroke-width="2.3"/>
<circle cx="1907" cy="268.5" r="5.4" fill="#fff" stroke="#111" stroke-width="2.3"/>
<line x1="1304.5" y1="159.8" x2="1359.6" y2="159.8" stroke="#222" stroke-width="2.6" />
<circle cx="1332" cy="159.8" r="5.5" fill="#fff" stroke="#222" stroke-width="2.3"/>
<line x1="1307.6" y1="208.3" x2="1361.9" y2="208.3" stroke="#1010f0" stroke-width="2.6" />
<circle cx="1334.8" cy="208.3" r="5.5" fill="#fff" stroke="#1010f0" stroke-width="2.3"/>
<text x="1392" y="173.2" font-size="47" font-family="'Liberation Serif','Times New Roman',serif" text-anchor="start" fill="#000" >Control</text>
<text x="1394" y="221" font-size="47" font-family="'Liberation Serif','Times New Roman',serif" text-anchor="start" fill="#000" >GP-17</text>
<text x="1911" y="471" font-size="40" font-family="'Liberation Serif','Times New Roman',serif" text-anchor="middle" fill="#3a3a3a" font-weight="bold" letter-spacing="4">***</text>
<text x="1471" y="585.4" font-size="39" font-family="'Liberation Serif','Times New Roman',serif" text-anchor="middle" fill="#000" transform="rotate(-90 1471 585.4)" >4-AP</text>
<path d="M1460.4,638.2V673.5M1450.9,662.5L1460.4,673.5L1469.9,662.5" stroke="#111" stroke-width="2.5" fill="none" stroke-linejoin="miter"/><path d="M1460.4,675L1456.4,667.5L1464.4,667.5Z" fill="#111"/>
<text x="47" y="1016.5" font-size="52" font-family="'Liberation Serif','Times New Roman',serif" text-anchor="start" fill="#000" >C</text>
<line x1="193.9" y1="1099.4" x2="193.9" y2="1752.2" stroke="#1a1a1a" stroke-width="2.4" />
<line x1="192.7" y1="1751" x2="1027.3" y2="1751" stroke="#1a1a1a" stroke-width="2.4" />
<line x1="177.2" y1="1725.2" x2="193.9" y2="1725.2" stroke="#1a1a1a" stroke-width="2.2" />
<text x="171.4" y="1736" font-size="32" font-family="'Liberation Serif','Times New Roman',serif" text-anchor="end" fill="#000" >0</text>
<line x1="177.2" y1="1621.1" x2="193.9" y2="1621.1" stroke="#1a1a1a" stroke-width="2.2" />
<text x="171.4" y="1631.9" font-size="32" font-family="'Liberation Serif','Times New Roman',serif" text-anchor="end" fill="#000" >20</text>
<line x1="177.2" y1="1517" x2="193.9" y2="1517" stroke="#1a1a1a" stroke-width="2.2" />
<text x="171.4" y="1527.8" font-size="32" font-family="'Liberation Serif','Times New Roman',serif" text-anchor="end" fill="#000" >40</text>
<line x1="177.2" y1="1412.9" x2="193.9" y2="1412.9" stroke="#1a1a1a" stroke-width="2.2" />
<text x="171.4" y="1423.7" font-size="32" font-family="'Liberation Serif','Times New Roman',serif" text-anchor="end" fill="#000" >60</text>
<line x1="177.2" y1="1308.8" x2="193.9" y2="1308.8" stroke="#1a1a1a" stroke-width="2.2" />
<text x="171.4" y="1319.6" font-size="32" font-family="'Liberation Serif','Times New Roman',serif" text-anchor="end" fill="#000" >80</text>
<line x1="177.2" y1="1204.7" x2="193.9" y2="1204.7" stroke="#1a1a1a" stroke-width="2.2" />
<text x="171.4" y="1215.5" font-size="32" font-family="'Liberation Serif','Times New Roman',serif" text-anchor="end" fill="#000" >100</text>
<line x1="177.2" y1="1100.6" x2="193.9" y2="1100.6" stroke="#1a1a1a" stroke-width="2.2" />
<text x="171.4" y="1111.4" font-size="32" font-family="'Liberation Serif','Times New Roman',serif" text-anchor="end" fill="#000" >120</text>
<line x1="318" y1="1751" x2="318" y2="1766.5" stroke="#1a1a1a" stroke-width="2.2" />
<text x="318" y="1802.7" font-size="32" font-family="'Liberation Serif','Times New Roman',serif" text-anchor="middle" fill="#000" >−7</text>
<line x1="495.1" y1="1751" x2="495.1" y2="1766.5" stroke="#1a1a1a" stroke-width="2.2" />
<text x="495.1" y="1802.7" font-size="32" font-family="'Liberation Serif','Times New Roman',serif" text-anchor="middle" fill="#000" >−6</text>
<line x1="672.2" y1="1751" x2="672.2" y2="1766.5" stroke="#1a1a1a" stroke-width="2.2" />
<text x="672.2" y="1802.7" font-size="32" font-family="'Liberation Serif','Times New Roman',serif" text-anchor="middle" fill="#000" >−5</text>
<line x1="849.3" y1="1751" x2="849.3" y2="1766.5" stroke="#1a1a1a" stroke-width="2.2" />
<text x="849.3" y="1802.7" font-size="32" font-family="'Liberation Serif','Times New Roman',serif" text-anchor="middle" fill="#000" >−4</text>
<line x1="1026.4" y1="1751" x2="1026.4" y2="1766.5" stroke="#1a1a1a" stroke-width="2.2" />
<text x="1026.4" y="1802.7" font-size="32" font-family="'Liberation Serif','Times New Roman',serif" text-anchor="middle" fill="#000" >−3</text>
<text x="610" y="1853.4" font-size="35.4" font-family="'Liberation Serif','Times New Roman',serif" text-anchor="middle" fill="#000" font-weight="bold" >Log [Gypenoside XVII] (M)</text>
<text x="105" y="1411" font-size="39" font-family="'Liberation Serif','Times New Roman',serif" text-anchor="middle" fill="#000" font-weight="bold" transform="rotate(-90 105 1411)" >Glutamate release (nmol/mg/5 min)</text>
<polyline points="245.2,1209.3 248.7,1209.5 252.1,1209.6 255.6,1209.8 259.1,1210 262.6,1210.1 266,1210.3 269.5,1210.5 273,1210.7 276.4,1210.9 279.9,1211.1 283.4,1211.4 286.8,1211.6 290.3,1211.8 293.8,1212.1 297.2,1212.3 300.7,1212.6 304.2,1212.8 307.6,1213.1 311.1,1213.4 314.6,1213.7 318.1,1214 321.5,1214.3 325,1214.6 328.5,1214.9 331.9,1215.3 335.4,1215.6 338.9,1216 342.3,1216.4 345.8,1216.8 349.3,1217.2 352.7,1217.6 356.2,1218 359.7,1218.5 363.1,1219 366.6,1219.4 370.1,1219.9 373.5,1220.4 377,1220.9 380.5,1221.5 384,1222 387.4,1222.6 390.9,1223.2 394.4,1223.8 397.8,1224.5 401.3,1225.1 404.8,1225.8 408.2,1226.5 411.7,1227.2 415.2,1227.9 418.6,1228.7 422.1,1229.5 425.6,1230.3 429,1231.1 432.5,1232 436,1232.9 439.4,1233.8 442.9,1234.7 446.4,1235.7 449.9,1236.7 453.3,1237.7 456.8,1238.8 460.3,1239.9 463.7,1241 467.2,1242.2 470.7,1243.3 474.1,1244.6 477.6,1245.8 481.1,1247.1 484.5,1248.5 488,1249.8 491.5,1251.3 494.9,1252.7 498.4,1254.2 501.9,1255.7 505.3,1257.3 508.8,1258.9 512.3,1260.6 515.8,1262.3 519.2,1264.1 522.7,1265.9 526.2,1267.7 529.6,1269.6 533.1,1271.5 536.6,1273.5 540,1275.6 543.5,1277.7 547,1279.8 550.4,1282 553.9,1284.3 557.4,1286.6 560.8,1288.9 564.3,1291.3 567.8,1293.8 571.3,1296.3 574.7,1298.9 578.2,1301.5 581.7,1304.2 585.1,1307 588.6,1309.8 592.1,1312.6 595.5,1315.5 599,1318.5 602.5,1321.6 605.9,1324.6 609.4,1327.8 612.9,1331 616.3,1334.3 619.8,1337.6 623.3,1340.9 626.7,1344.4 630.2,1347.8 633.7,1351.4 637.2,1355 640.6,1358.6 644.1,1362.3 647.6,1366 651,1369.8 654.5,1373.6 658,1377.5 661.4,1381.4 664.9,1385.4 668.4,1389.4 671.8,1393.4 675.3,1397.5 678.8,1401.6 682.2,1405.8 685.7,1410 689.2,1414.2 692.6,1418.4 696.1,1422.7 699.6,1427 703.1,1431.3 706.5,1435.6 710,1440 713.5,1444.3 716.9,1448.7 720.4,1453.1 723.9,1457.5 727.3,1461.9 730.8,1466.3 734.3,1470.7 737.7,1475.1 741.2,1479.4 744.7,1483.8 748.1,1488.2 751.6,1492.5 755.1,1496.9 758.6,1501.2 762,1505.5 765.5,1509.8 769,1514 772.4,1518.3 775.9,1522.4 779.4,1526.6 782.8,1530.7 786.3,1534.8 789.8,1538.9 793.2,1542.9 796.7,1546.9 800.2,1550.8 803.6,1554.7 807.1,1558.6 810.6,1562.4 814,1566.1 817.5,1569.8 821,1573.5 824.5,1577.1 827.9,1580.7 831.4,1584.2 834.9,1587.6 838.3,1591 841.8,1594.3 845.3,1597.6 848.7,1600.8 852.2,1604 855.7,1607.1 859.1,1610.2 862.6,1613.2 866.1,1616.1 869.5,1619 873,1621.8 876.5,1624.6 879.9,1627.3 883.4,1630 886.9,1632.6 890.4,1635.1 893.8,1637.6 897.3,1640 900.8,1642.4 904.2,1644.7 907.7,1647 911.2,1649.2 914.6,1651.4 918.1,1653.5 921.6,1655.6 925,1657.6 928.5,1659.5 932,1661.5 935.4,1663.3 938.9,1665.1" fill="none" stroke="#1414c8" stroke-width="3.8"/>
<polyline points="245.2,1209.1 248.7,1209.3 252.1,1209.4 255.6,1209.6 259.1,1209.8 262.6,1210 266,1210.2 269.5,1210.3 273,1210.5 276.4,1210.8 279.9,1211 283.4,1211.2 286.8,1211.4 290.3,1211.7 293.8,1211.9 297.2,1212.2 300.7,1212.4 304.2,1212.7 307.6,1213 311.1,1213.3 314.6,1213.6 318.1,1213.9 321.5,1214.2 325,1214.6 328.5,1214.9 331.9,1215.3 335.4,1215.6 338.9,1216 342.3,1216.4 345.8,1216.8 349.3,1217.3 352.7,1217.7 356.2,1218.2 359.7,1218.6 363.1,1219.1 366.6,1219.6 370.1,1220.1 373.5,1220.7 377,1221.2 380.5,1221.8 384,1222.4 387.4,1223 390.9,1223.7 394.4,1224.3 397.8,1225 401.3,1225.7 404.8,1226.4 408.2,1227.2 411.7,1227.9 415.2,1228.7 418.6,1229.6 422.1,1230.4 425.6,1231.3 429,1232.2 432.5,1233.1 436,1234.1 439.4,1235.1 442.9,1236.1 446.4,1237.2 449.9,1238.3 453.3,1239.4 456.8,1240.6 460.3,1241.8 463.7,1243 467.2,1244.3 470.7,1245.6 474.1,1246.9 477.6,1248.3 481.1,1249.8 484.5,1251.2 488,1252.8 491.5,1254.3 494.9,1255.9 498.4,1257.6 501.9,1259.3 505.3,1261 508.8,1262.8 512.3,1264.7 515.8,1266.6 519.2,1268.6 522.7,1270.6 526.2,1272.6 529.6,1274.7 533.1,1276.9 536.6,1279.1 540,1281.4 543.5,1283.8 547,1286.2 550.4,1288.6 553.9,1291.1 557.4,1293.7 560.8,1296.4 564.3,1299.1 567.8,1301.8 571.3,1304.6 574.7,1307.5 578.2,1310.5 581.7,1313.5 585.1,1316.6 588.6,1319.7 592.1,1322.9 595.5,1326.2 599,1329.5 602.5,1332.9 605.9,1336.3 609.4,1339.8 612.9,1343.4 616.3,1347 619.8,1350.7 623.3,1354.4 626.7,1358.2 630.2,1362.1 633.7,1366 637.2,1370 640.6,1374 644.1,1378 647.6,1382.2 651,1386.3 654.5,1390.5 658,1394.8 661.4,1399 664.9,1403.4 668.4,1407.7 671.8,1412.1 675.3,1416.6 678.8,1421 682.2,1425.5 685.7,1430 689.2,1434.5 692.6,1439.1 696.1,1443.6 699.6,1448.2 703.1,1452.8 706.5,1457.4 710,1462 713.5,1466.6 716.9,1471.2 720.4,1475.8 723.9,1480.4 727.3,1485 730.8,1489.5 734.3,1494.1 737.7,1498.6 741.2,1503.1 744.7,1507.6 748.1,1512.1 751.6,1516.5 755.1,1520.9 758.6,1525.3 762,1529.6 765.5,1533.9 769,1538.2 772.4,1542.4 775.9,1546.6 779.4,1550.7 782.8,1554.8 786.3,1558.8 789.8,1562.8 793.2,1566.7 796.7,1570.6 800.2,1574.4 803.6,1578.1 807.1,1581.8 810.6,1585.5 814,1589.1 817.5,1592.6 821,1596 824.5,1599.5 827.9,1602.8 831.4,1606.1 834.9,1609.3 838.3,1612.4 841.8,1615.5 845.3,1618.6 848.7,1621.5 852.2,1624.4 855.7,1627.3 859.1,1630.1 862.6,1632.8 866.1,1635.4 869.5,1638 873,1640.6 876.5,1643 879.9,1645.5 883.4,1647.8 886.9,1650.1 890.4,1652.4 893.8,1654.5 897.3,1656.7 900.8,1658.8 904.2,1660.8 907.7,1662.7 911.2,1664.7 914.6,1666.5 918.1,1668.3 921.6,1670.1 925,1671.8 928.5,1673.5 932,1675.1 935.4,1676.7 938.9,1678.2" fill="none" stroke="#0a7a0a" stroke-width="3.8"/>
<path d="M494.1,1197.5V1213.5M488.1,1197.5H500.1M488.1,1213.5H500.1" stroke="#111" stroke-width="2.2" fill="none"/>
<path d="M579.1,1283.9V1300.9M573.1,1283.9H585.1M573.1,1300.9H585.1" stroke="#111" stroke-width="2.2" fill="none"/>
<path d="M618.8,1336V1352M612.8,1336H624.8M612.8,1352H624.8" stroke="#111" stroke-width="2.2" fill="none"/>
<path d="M672,1454.1V1466.1M666,1454.1H678M666,1466.1H678" stroke="#111" stroke-width="2.2" fill="none"/>
<path d="M756.3,1521.8V1533.8M750.3,1521.8H762.3M750.3,1533.8H762.3" stroke="#111" stroke-width="2.2" fill="none"/>
<path d="M494.1,1193.3V1215.3M488.1,1193.3H500.1M488.1,1215.3H500.1" stroke="#111" stroke-width="2.2" fill="none"/>
<path d="M579.1,1257.4V1275.4M573.1,1257.4H585.1M573.1,1275.4H585.1" stroke="#111" stroke-width="2.2" fill="none"/>
<path d="M618.8,1333.1V1351.1M612.8,1333.1H624.8M612.8,1351.1H624.8" stroke="#111" stroke-width="2.2" fill="none"/>
<path d="M672,1441.1V1457.1M666,1441.1H678M666,1457.1H678" stroke="#111" stroke-width="2.2" fill="none"/>
<path d="M756.3,1488.9V1508.9M750.3,1488.9H762.3M750.3,1508.9H762.3" stroke="#111" stroke-width="2.2" fill="none"/>
<circle cx="494.1" cy="1205.5" r="5.2" fill="#fff" stroke="#111" stroke-width="2.3"/>
<circle cx="579.1" cy="1292.4" r="5.2" fill="#fff" stroke="#111" stroke-width="2.3"/>
<circle cx="618.8" cy="1344" r="5.2" fill="#fff" stroke="#111" stroke-width="2.3"/>
<circle cx="672" cy="1460.1" r="5.2" fill="#fff" stroke="#111" stroke-width="2.3"/>
<circle cx="756.3" cy="1527.8" r="5.2" fill="#fff" stroke="#111" stroke-width="2.3"/>
<circle cx="795.7" cy="1525.3" r="5.2" fill="#fff" stroke="#111" stroke-width="2.3"/>
<circle cx="494.1" cy="1204.3" r="5.8" fill="#111"/>
<circle cx="579.1" cy="1266.4" r="5.8" fill="#111"/>
<circle cx="618.8" cy="1342.1" r="5.8" fill="#111"/>
<circle cx="672" cy="1449.1" r="5.8" fill="#111"/>
<circle cx="756.3" cy="1498.9" r="5.8" fill="#111"/>
<circle cx="795.7" cy="1508.9" r="5.8" fill="#111"/>
<line x1="620.8" y1="1092.5" x2="668.7" y2="1092.5" stroke="#0a7a0a" stroke-width="3.2" />
<circle cx="644.7" cy="1092.5" r="5.2" fill="#fff" stroke="#111" stroke-width="2.2"/>
<line x1="620.8" y1="1148.4" x2="668.7" y2="1148.4" stroke="#1414c8" stroke-width="3.2" />
<circle cx="644.7" cy="1148.4" r="6" fill="#111"/>
<text x="691.5" y="1104" font-size="39" font-family="'Liberation Serif','Times New Roman',serif" text-anchor="start" fill="#000" >4-AP</text>
<text x="693" y="1160.5" font-size="38.5" font-family="'Liberation Serif','Times New Roman',serif" text-anchor="start" fill="#000" >KCl</text>
<text x="802" y="1103.5" font-size="39" font-family="'Liberation Serif','Times New Roman',serif" text-anchor="start" fill="#000" >IC<tspan font-size="29.5" dy="9">50</tspan><tspan dy="-9" dx="5">= 16 µM</tspan></text>
<text x="802" y="1160" font-size="39" font-family="'Liberation Serif','Times New Roman',serif" text-anchor="start" fill="#000" >IC<tspan font-size="29.5" dy="9">50</tspan><tspan dy="-9" dx="5">= 20 µM</tspan></text>
<text x="1136" y="1015.6" font-size="50" font-family="'Liberation Serif','Times New Roman',serif" text-anchor="start" fill="#000" >D</text>
<line x1="1281.4" y1="1028" x2="1281.4" y2="1744" stroke="#1a1a1a" stroke-width="2.4" />
<line x1="1280.2" y1="1742.8" x2="2018" y2="1742.8" stroke="#1a1a1a" stroke-width="2.4" />
<line x1="1267.8" y1="1742.8" x2="1281.4" y2="1742.8" stroke="#1a1a1a" stroke-width="2.2" />
<text x="1262.5" y="1753.1" font-size="30.5" font-family="'Liberation Serif','Times New Roman',serif" text-anchor="end" fill="#000" >0</text>
<line x1="1267.8" y1="1600.1" x2="1281.4" y2="1600.1" stroke="#1a1a1a" stroke-width="2.2" />
<text x="1262.5" y="1610.4" font-size="30.5" font-family="'Liberation Serif','Times New Roman',serif" text-anchor="end" fill="#000" >2</text>
<line x1="1267.8" y1="1457.4" x2="1281.4" y2="1457.4" stroke="#1a1a1a" stroke-width="2.2" />
<text x="1262.5" y="1467.7" font-size="30.5" font-family="'Liberation Serif','Times New Roman',serif" text-anchor="end" fill="#000" >4</text>
<line x1="1267.8" y1="1314.6" x2="1281.4" y2="1314.6" stroke="#1a1a1a" stroke-width="2.2" />
<text x="1262.5" y="1324.9" font-size="30.5" font-family="'Liberation Serif','Times New Roman',serif" text-anchor="end" fill="#000" >6</text>
<line x1="1267.8" y1="1171.9" x2="1281.4" y2="1171.9" stroke="#1a1a1a" stroke-width="2.2" />
<text x="1262.5" y="1182.2" font-size="30.5" font-family="'Liberation Serif','Times New Roman',serif" text-anchor="end" fill="#000" >8</text>
<line x1="1267.8" y1="1029.2" x2="1281.4" y2="1029.2" stroke="#1a1a1a" stroke-width="2.2" />
<text x="1262.5" y="1039.5" font-size="30.5" font-family="'Liberation Serif','Times New Roman',serif" text-anchor="end" fill="#000" >10</text>
<text x="1163" y="1384.5" font-size="45.7" font-family="'Liberation Serif','Times New Roman',serif" text-anchor="middle" fill="#000" font-weight="bold" transform="rotate(-90 1163 1384.5)" >4-AP-evoked glutamate release</text>
<text x="1216" y="1382" font-size="45.7" font-family="'Liberation Serif','Times New Roman',serif" text-anchor="middle" fill="#000" font-weight="bold" transform="rotate(-90 1216 1382)" >(nmol/mg/5 min)</text>
<g stroke="#111111" fill="none" stroke-width="4.6">
<path d="M1378,1199V1213.9M1354.5,1213.9H1401.5M1378,1177.2V1173.2M1354.5,1173.2H1401.5"/>
<rect x="1332.5" y="1177.2" width="91" height="21.8"/>
<path d="M1332.5,1184.9H1423.5"/>
</g>
<circle cx="1348.5" cy="1174" r="7" fill="#fff" stroke="#111111" stroke-width="2.7"/>
<circle cx="1378" cy="1173" r="7" fill="#fff" stroke="#111111" stroke-width="2.7"/>
<circle cx="1378" cy="1189.2" r="7" fill="#fff" stroke="#111111" stroke-width="2.7"/>
<circle cx="1407.3" cy="1187" r="7" fill="#fff" stroke="#111111" stroke-width="2.7"/>
<circle cx="1378" cy="1214.6" r="7" fill="#fff" stroke="#111111" stroke-width="2.7"/>
<g stroke="#1010f0" fill="none" stroke-width="4.6">
<path d="M1486.1,1465.2V1474.3M1462.6,1474.3H1509.6M1486.1,1439.7V1431.1M1462.6,1431.1H1509.6"/>
<rect x="1440.6" y="1439.7" width="91" height="25.5"/>
<path d="M1440.6,1453.2H1531.6"/>
</g>
<circle cx="1471.6" cy="1430.7" r="7" fill="#fff" stroke="#1010f0" stroke-width="2.7"/>
<circle cx="1501.4" cy="1444" r="7" fill="#fff" stroke="#1010f0" stroke-width="2.7"/>
<circle cx="1471.6" cy="1452.8" r="7" fill="#fff" stroke="#1010f0" stroke-width="2.7"/>
<circle cx="1501.4" cy="1462.2" r="7" fill="#fff" stroke="#1010f0" stroke-width="2.7"/>
<circle cx="1471.6" cy="1475" r="7" fill="#fff" stroke="#1010f0" stroke-width="2.7"/>
<g stroke="#22c084" fill="none" stroke-width="4.6">
<path d="M1594.7,1592.3V1593M1568.7,1593H1620.7M1594.7,1588.8V1580.6M1568.7,1580.6H1620.7"/>
<rect x="1549.2" y="1588.8" width="91" height="3.5"/>
<path d="M1549.2,1591.8H1640.2"/>
</g>
<circle cx="1554" cy="1592.5" r="7" fill="#fff" stroke="#22c084" stroke-width="2.7"/>
<circle cx="1574.3" cy="1580.6" r="7" fill="#fff" stroke="#22c084" stroke-width="2.7"/>
<circle cx="1594.7" cy="1593.2" r="7" fill="#fff" stroke="#22c084" stroke-width="2.7"/>
<circle cx="1615" cy="1588.8" r="7" fill="#fff" stroke="#22c084" stroke-width="2.7"/>
<circle cx="1635.3" cy="1593.2" r="7" fill="#fff" stroke="#22c084" stroke-width="2.7"/>
<g stroke="#0b6b0b" fill="none" stroke-width="4.6">
<path d="M1702.9,1591.6V1592M1676.9,1592H1728.9M1702.9,1588.2V1580.9M1676.9,1580.9H1728.9"/>
<rect x="1657.4" y="1588.2" width="91" height="3.4"/>
<path d="M1657.4,1591H1748.4"/>
</g>
<circle cx="1661.5" cy="1591.7" r="7" fill="#fff" stroke="#0b6b0b" stroke-width="2.7"/>
<circle cx="1682.3" cy="1580.9" r="7" fill="#fff" stroke="#0b6b0b" stroke-width="2.7"/>
<circle cx="1702.9" cy="1591" r="7" fill="#fff" stroke="#0b6b0b" stroke-width="2.7"/>
<circle cx="1723.2" cy="1588.1" r="7" fill="#fff" stroke="#0b6b0b" stroke-width="2.7"/>
<circle cx="1744.3" cy="1591.7" r="7" fill="#fff" stroke="#0b6b0b" stroke-width="2.7"/>
<g stroke="#c4c40a" fill="none" stroke-width="4.6">
<path d="M1811,1595.4V1604.1M1787.5,1604.1H1834.5M1811,1582.3V1581.6M1787.5,1581.6H1834.5"/>
<rect x="1765.5" y="1582.3" width="91" height="13.1"/>
<path d="M1765.5,1592.5H1856.5"/>
</g>
<circle cx="1770.3" cy="1583.8" r="7" fill="#fff" stroke="#c4c40a" stroke-width="2.7"/>
<circle cx="1797.2" cy="1581.6" r="7" fill="#fff" stroke="#c4c40a" stroke-width="2.7"/>
<circle cx="1852.4" cy="1583" r="7" fill="#fff" stroke="#c4c40a" stroke-width="2.7"/>
<circle cx="1824.8" cy="1592.5" r="7" fill="#fff" stroke="#c4c40a" stroke-width="2.7"/>
<circle cx="1797.2" cy="1604.8" r="7" fill="#fff" stroke="#c4c40a" stroke-width="2.7"/>
<g stroke="#86860a" fill="none" stroke-width="4.6">
<path d="M1919.3,1592V1597.6M1895.8,1597.6H1942.8M1919.3,1580.5V1572.1M1895.8,1572.1H1942.8"/>
<rect x="1873.8" y="1580.5" width="91" height="11.5"/>
<path d="M1873.8,1586.7H1964.8"/>
</g>
<circle cx="1889.5" cy="1581.6" r="7" fill="#fff" stroke="#86860a" stroke-width="2.7"/>
<circle cx="1889.5" cy="1598.3" r="7" fill="#fff" stroke="#86860a" stroke-width="2.7"/>
<circle cx="1919.3" cy="1582.3" r="7" fill="#fff" stroke="#86860a" stroke-width="2.7"/>
<circle cx="1949" cy="1572.1" r="7" fill="#fff" stroke="#86860a" stroke-width="2.7"/>
<circle cx="1949" cy="1591.7" r="7" fill="#fff" stroke="#86860a" stroke-width="2.7"/>
<text x="1486.5" y="1424.8" font-size="32" font-family="'Liberation Serif','Times New Roman',serif" text-anchor="middle" fill="#3a3a3a" font-weight="bold" letter-spacing="-0.5">***</text>
<text x="1597.5" y="1571.4" font-size="32" font-family="'Liberation Serif','Times New Roman',serif" text-anchor="middle" fill="#3a3a3a" font-weight="bold" letter-spacing="-0.5">***</text>
<text x="1704.3" y="1571.5" font-size="32" font-family="'Liberation Serif','Times New Roman',serif" text-anchor="middle" fill="#3a3a3a" font-weight="bold" letter-spacing="-0.5">***</text>
<text x="1812" y="1569.9" font-size="32" font-family="'Liberation Serif','Times New Roman',serif" text-anchor="middle" fill="#3a3a3a" font-weight="bold" letter-spacing="-0.5">***</text>
<text x="1920" y="1567.8" font-size="32" font-family="'Liberation Serif','Times New Roman',serif" text-anchor="middle" fill="#3a3a3a" font-weight="bold" letter-spacing="-0.5">***</text>
<text x="1399.5" y="1775.6" font-size="38" font-family="'Liberation Serif','Times New Roman',serif" text-anchor="end" fill="#000" transform="rotate(-48 1399.5 1775.6)" word-spacing="5">Control</text>
<text x="1496.6" y="1788.8" font-size="38" font-family="'Liberation Serif','Times New Roman',serif" text-anchor="end" fill="#000" transform="rotate(-48 1496.6 1788.8)" word-spacing="5">GP-17</text>
<text x="1612.8" y="1788.9" font-size="38" font-family="'Liberation Serif','Times New Roman',serif" text-anchor="end" fill="#000" transform="rotate(-48 1612.8 1788.9)" word-spacing="5">0 Ca<tspan font-size="30" dy="-22" dx="2">2+</tspan></text>
<text x="1725.4" y="1779.2" font-size="38" font-family="'Liberation Serif','Times New Roman',serif" text-anchor="end" fill="#000" transform="rotate(-48 1725.4 1779.2)" word-spacing="5">0 Ca<tspan font-size="30" dy="-22" dx="2">2+</tspan><tspan dy="22"> + GP-17</tspan></text>
<text x="1837.7" y="1782.6" font-size="38" font-family="'Liberation Serif','Times New Roman',serif" text-anchor="end" fill="#000" transform="rotate(-48 1837.7 1782.6)" word-spacing="5">ω-CgTX GVIA + ω-AgTX IVA</text>
<text x="1950.1" y="1792.4" font-size="38" font-family="'Liberation Serif','Times New Roman',serif" text-anchor="end" fill="#000" transform="rotate(-48 1950.1 1792.4)" word-spacing="5">ω-CgTX GVIA + ω-AgTX IVA + GP-17</text>
<text x="47" y="1891" font-size="52" font-family="'Liberation Serif','Times New Roman',serif" text-anchor="start" fill="#000" >E</text>
<line x1="197.8" y1="1983.8" x2="197.8" y2="2687.2" stroke="#1a1a1a" stroke-width="2.6" />
<line x1="196.5" y1="2686" x2="985.2" y2="2686" stroke="#1a1a1a" stroke-width="2.6" />
<line x1="177.2" y1="1985" x2="197.8" y2="1985" stroke="#1a1a1a" stroke-width="2.4" />
<text x="168.6" y="1998.5" font-size="39.5" font-family="'Liberation Serif','Times New Roman',serif" text-anchor="end" fill="#000" >30</text>
<line x1="177.2" y1="2160.2" x2="197.8" y2="2160.2" stroke="#1a1a1a" stroke-width="2.4" />
<text x="168.6" y="2173.7" font-size="39.5" font-family="'Liberation Serif','Times New Roman',serif" text-anchor="end" fill="#000" >0</text>
<line x1="177.2" y1="2335.4" x2="197.8" y2="2335.4" stroke="#1a1a1a" stroke-width="2.4" />
<text x="168.6" y="2348.9" font-size="39.5" font-family="'Liberation Serif','Times New Roman',serif" text-anchor="end" fill="#000" >−30</text>
<line x1="177.2" y1="2510.6" x2="197.8" y2="2510.6" stroke="#1a1a1a" stroke-width="2.4" />
<text x="168.6" y="2524.1" font-size="39.5" font-family="'Liberation Serif','Times New Roman',serif" text-anchor="end" fill="#000" >−60</text>
<line x1="177.2" y1="2685.8" x2="197.8" y2="2685.8" stroke="#1a1a1a" stroke-width="2.4" />
<text x="168.6" y="2699.3" font-size="39.5" font-family="'Liberation Serif','Times New Roman',serif" text-anchor="end" fill="#000" >−90</text>
<line x1="214" y1="2686" x2="214" y2="2704" stroke="#1a1a1a" stroke-width="2.4" />
<text x="214" y="2751.5" font-size="39.5" font-family="'Liberation Serif','Times New Roman',serif" text-anchor="middle" fill="#000" >0</text>
<line x1="368" y1="2686" x2="368" y2="2704" stroke="#1a1a1a" stroke-width="2.4" />
<text x="368" y="2751.5" font-size="39.5" font-family="'Liberation Serif','Times New Roman',serif" text-anchor="middle" fill="#000" >100</text>
<line x1="522" y1="2686" x2="522" y2="2704" stroke="#1a1a1a" stroke-width="2.4" />
<text x="522" y="2751.5" font-size="39.5" font-family="'Liberation Serif','Times New Roman',serif" text-anchor="middle" fill="#000" >200</text>
<line x1="676" y1="2686" x2="676" y2="2704" stroke="#1a1a1a" stroke-width="2.4" />
<text x="676" y="2751.5" font-size="39.5" font-family="'Liberation Serif','Times New Roman',serif" text-anchor="middle" fill="#000" >300</text>
<line x1="830" y1="2686" x2="830" y2="2704" stroke="#1a1a1a" stroke-width="2.4" />
<text x="830" y="2751.5" font-size="39.5" font-family="'Liberation Serif','Times New Roman',serif" text-anchor="middle" fill="#000" >400</text>
<line x1="984" y1="2686" x2="984" y2="2704" stroke="#1a1a1a" stroke-width="2.4" />
<text x="984" y="2751.5" font-size="39.5" font-family="'Liberation Serif','Times New Roman',serif" text-anchor="middle" fill="#000" >500</text>
<text x="596.8" y="2810.5" font-size="49.5" font-family="'Liberation Serif','Times New Roman',serif" text-anchor="middle" fill="#000" font-weight="bold" >Time (sec)</text>
<text x="95.2" y="2333" font-size="49.2" font-family="'Liberation Serif','Times New Roman',serif" text-anchor="middle" fill="#000" font-weight="bold" transform="rotate(-90 95.2 2333)" >FM1-43 fluorescence</text>
<polyline points="214,2160.5 229.4,2160.5 244.8,2160.5 260.2,2160.5 275.6,2160.5 291,2160.5 306.4,2160.5 321.8,2160.5 337.2,2160.5 352.6,2160.5 368,2160.5 383.4,2166.6 398.8,2178.5 414.2,2189.8 429.6,2193.6 445,2197 460.4,2201.5 475.8,2207.3 491.2,2211.3 506.6,2217.2 522,2215.7 537.4,2220.1 552.8,2223.2 568.2,2225.1 583.6,2230.2 599,2232.7 614.4,2235.8 629.8,2239 645.2,2242.7 660.6,2242.7 676,2245.9 691.4,2249 706.8,2254.7 722.2,2255.3 737.6,2255.3 753,2257.9 768.4,2261.6 783.8,2264.2 799.2,2267.9 814.6,2270.4 830,2274.2 845.4,2278.6 860.8,2283" fill="none" stroke="#1010f0" stroke-width="2.0"/>
<path d="M383.4,2160.6V2172.6M376.9,2160.6H389.9M376.9,2172.6H389.9" stroke="#1010f0" stroke-width="2.6" fill="none"/>
<path d="M398.8,2172.5V2184.5M392.3,2172.5H405.3M392.3,2184.5H405.3" stroke="#1010f0" stroke-width="2.6" fill="none"/>
<path d="M414.2,2183.8V2195.8M407.7,2183.8H420.7M407.7,2195.8H420.7" stroke="#1010f0" stroke-width="2.6" fill="none"/>
<path d="M429.6,2187.6V2199.6M423.1,2187.6H436.1M423.1,2199.6H436.1" stroke="#1010f0" stroke-width="2.6" fill="none"/>
<path d="M445,2191V2203M438.5,2191H451.5M438.5,2203H451.5" stroke="#1010f0" stroke-width="2.6" fill="none"/>
<path d="M460.4,2195.5V2207.5M453.9,2195.5H466.9M453.9,2207.5H466.9" stroke="#1010f0" stroke-width="2.6" fill="none"/>
<path d="M475.8,2201.3V2213.3M469.3,2201.3H482.3M469.3,2213.3H482.3" stroke="#1010f0" stroke-width="2.6" fill="none"/>
<path d="M491.2,2205.3V2217.3M484.7,2205.3H497.7M484.7,2217.3H497.7" stroke="#1010f0" stroke-width="2.6" fill="none"/>
<path d="M506.6,2211.2V2223.2M500.1,2211.2H513.1M500.1,2223.2H513.1" stroke="#1010f0" stroke-width="2.6" fill="none"/>
<path d="M583.6,2224.2V2236.2M577.1,2224.2H590.1M577.1,2236.2H590.1" stroke="#1010f0" stroke-width="2.6" fill="none"/>
<path d="M645.2,2236.7V2248.7M638.7,2236.7H651.7M638.7,2248.7H651.7" stroke="#1010f0" stroke-width="2.6" fill="none"/>
<path d="M660.6,2236.7V2248.7M654.1,2236.7H667.1M654.1,2248.7H667.1" stroke="#1010f0" stroke-width="2.6" fill="none"/>
<path d="M706.8,2248.7V2260.7M700.3,2248.7H713.3M700.3,2260.7H713.3" stroke="#1010f0" stroke-width="2.6" fill="none"/>
<path d="M722.2,2249.3V2261.3M715.7,2249.3H728.7M715.7,2261.3H728.7" stroke="#1010f0" stroke-width="2.6" fill="none"/>
<path d="M737.6,2249.3V2261.3M731.1,2249.3H744.1M731.1,2261.3H744.1" stroke="#1010f0" stroke-width="2.6" fill="none"/>
<path d="M753,2251.9V2263.9M746.5,2251.9H759.5M746.5,2263.9H759.5" stroke="#1010f0" stroke-width="2.6" fill="none"/>
<path d="M768.4,2255.6V2267.6M761.9,2255.6H774.9M761.9,2267.6H774.9" stroke="#1010f0" stroke-width="2.6" fill="none"/>
<path d="M860.8,2277V2289M854.3,2277H867.3M854.3,2289H867.3" stroke="#1010f0" stroke-width="2.6" fill="none"/>
<circle cx="214" cy="2160.5" r="5.3" fill="#fff" stroke="#1010f0" stroke-width="2.2"/>
<circle cx="229.4" cy="2160.5" r="5.3" fill="#fff" stroke="#1010f0" stroke-width="2.2"/>
<circle cx="244.8" cy="2160.5" r="5.3" fill="#fff" stroke="#1010f0" stroke-width="2.2"/>
<circle cx="260.2" cy="2160.5" r="5.3" fill="#fff" stroke="#1010f0" stroke-width="2.2"/>
<circle cx="275.6" cy="2160.5" r="5.3" fill="#fff" stroke="#1010f0" stroke-width="2.2"/>
<circle cx="291" cy="2160.5" r="5.3" fill="#fff" stroke="#1010f0" stroke-width="2.2"/>
<circle cx="306.4" cy="2160.5" r="5.3" fill="#fff" stroke="#1010f0" stroke-width="2.2"/>
<circle cx="321.8" cy="2160.5" r="5.3" fill="#fff" stroke="#1010f0" stroke-width="2.2"/>
<circle cx="337.2" cy="2160.5" r="5.3" fill="#fff" stroke="#1010f0" stroke-width="2.2"/>
<circle cx="352.6" cy="2160.5" r="5.3" fill="#fff" stroke="#1010f0" stroke-width="2.2"/>
<circle cx="368" cy="2160.5" r="5.3" fill="#fff" stroke="#1010f0" stroke-width="2.2"/>
<circle cx="383.4" cy="2166.6" r="5.3" fill="#fff" stroke="#1010f0" stroke-width="2.2"/>
<circle cx="398.8" cy="2178.5" r="5.3" fill="#fff" stroke="#1010f0" stroke-width="2.2"/>
<circle cx="414.2" cy="2189.8" r="5.3" fill="#fff" stroke="#1010f0" stroke-width="2.2"/>
<circle cx="429.6" cy="2193.6" r="5.3" fill="#fff" stroke="#1010f0" stroke-width="2.2"/>
<circle cx="445" cy="2197" r="5.3" fill="#fff" stroke="#1010f0" stroke-width="2.2"/>
<circle cx="460.4" cy="2201.5" r="5.3" fill="#fff" stroke="#1010f0" stroke-width="2.2"/>
<circle cx="475.8" cy="2207.3" r="5.3" fill="#fff" stroke="#1010f0" stroke-width="2.2"/>
<circle cx="491.2" cy="2211.3" r="5.3" fill="#fff" stroke="#1010f0" stroke-width="2.2"/>
<circle cx="506.6" cy="2217.2" r="5.3" fill="#fff" stroke="#1010f0" stroke-width="2.2"/>
<circle cx="522" cy="2215.7" r="5.3" fill="#fff" stroke="#1010f0" stroke-width="2.2"/>
<circle cx="537.4" cy="2220.1" r="5.3" fill="#fff" stroke="#1010f0" stroke-width="2.2"/>
<circle cx="552.8" cy="2223.2" r="5.3" fill="#fff" stroke="#1010f0" stroke-width="2.2"/>
<circle cx="568.2" cy="2225.1" r="5.3" fill="#fff" stroke="#1010f0" stroke-width="2.2"/>
<circle cx="583.6" cy="2230.2" r="5.3" fill="#fff" stroke="#1010f0" stroke-width="2.2"/>
<circle cx="599" cy="2232.7" r="5.3" fill="#fff" stroke="#1010f0" stroke-width="2.2"/>
<circle cx="614.4" cy="2235.8" r="5.3" fill="#fff" stroke="#1010f0" stroke-width="2.2"/>
<circle cx="629.8" cy="2239" r="5.3" fill="#fff" stroke="#1010f0" stroke-width="2.2"/>
<circle cx="645.2" cy="2242.7" r="5.3" fill="#fff" stroke="#1010f0" stroke-width="2.2"/>
<circle cx="660.6" cy="2242.7" r="5.3" fill="#fff" stroke="#1010f0" stroke-width="2.2"/>
<circle cx="676" cy="2245.9" r="5.3" fill="#fff" stroke="#1010f0" stroke-width="2.2"/>
<circle cx="691.4" cy="2249" r="5.3" fill="#fff" stroke="#1010f0" stroke-width="2.2"/>
<circle cx="706.8" cy="2254.7" r="5.3" fill="#fff" stroke="#1010f0" stroke-width="2.2"/>
<circle cx="722.2" cy="2255.3" r="5.3" fill="#fff" stroke="#1010f0" stroke-width="2.2"/>
<circle cx="737.6" cy="2255.3" r="5.3" fill="#fff" stroke="#1010f0" stroke-width="2.2"/>
<circle cx="753" cy="2257.9" r="5.3" fill="#fff" stroke="#1010f0" stroke-width="2.2"/>
<circle cx="768.4" cy="2261.6" r="5.3" fill="#fff" stroke="#1010f0" stroke-width="2.2"/>
<circle cx="783.8" cy="2264.2" r="5.3" fill="#fff" stroke="#1010f0" stroke-width="2.2"/>
<circle cx="799.2" cy="2267.9" r="5.3" fill="#fff" stroke="#1010f0" stroke-width="2.2"/>
<circle cx="814.6" cy="2270.4" r="5.3" fill="#fff" stroke="#1010f0" stroke-width="2.2"/>
<circle cx="830" cy="2274.2" r="5.3" fill="#fff" stroke="#1010f0" stroke-width="2.2"/>
<circle cx="845.4" cy="2278.6" r="5.3" fill="#fff" stroke="#1010f0" stroke-width="2.2"/>
<circle cx="860.8" cy="2283" r="5.3" fill="#fff" stroke="#1010f0" stroke-width="2.2"/>
<polyline points="214,2160.5 229.4,2160.5 244.8,2160.5 260.2,2160.5 275.6,2160.5 291,2160.5 306.4,2160.5 321.8,2160.5 337.2,2160.5 352.6,2160.5 368,2160.5 383.4,2165.1 398.8,2200.2 414.2,2229.2 429.6,2258 445,2273.6 460.4,2286.2 475.8,2307 491.2,2329 506.6,2349.8 522,2365.5 537.4,2378.1 552.8,2390.7 568.2,2398.2 583.6,2409.6 599,2412.7 614.4,2422.2 629.8,2425.3 645.2,2442.3 660.6,2453 676,2460 691.4,2473.8 706.8,2488.3 722.2,2488.3 737.6,2495.8 753,2507.1 768.4,2522.9 783.8,2536.7 799.2,2551.2 814.6,2555.6 830,2567 845.4,2577.7 860.8,2590.2" fill="none" stroke="#111" stroke-width="2.0"/>
<path d="M445,2268.6V2278.6M438.5,2268.6H451.5M438.5,2278.6H451.5" stroke="#111" stroke-width="2.6" fill="none"/>
<path d="M460.4,2280.2V2292.2M453.9,2280.2H466.9M453.9,2292.2H466.9" stroke="#111" stroke-width="2.6" fill="none"/>
<path d="M475.8,2299V2315M469.3,2299H482.3M469.3,2315H482.3" stroke="#111" stroke-width="2.6" fill="none"/>
<path d="M491.2,2319V2339M484.7,2319H497.7M484.7,2339H497.7" stroke="#111" stroke-width="2.6" fill="none"/>
<path d="M506.6,2337.8V2361.8M500.1,2337.8H513.1M500.1,2361.8H513.1" stroke="#111" stroke-width="2.6" fill="none"/>
<path d="M522,2350.5V2380.5M515.5,2350.5H528.5M515.5,2380.5H528.5" stroke="#111" stroke-width="2.6" fill="none"/>
<path d="M537.4,2362.1V2394.1M530.9,2362.1H543.9M530.9,2394.1H543.9" stroke="#111" stroke-width="2.6" fill="none"/>
<path d="M552.8,2373.7V2407.7M546.3,2373.7H559.3M546.3,2407.7H559.3" stroke="#111" stroke-width="2.6" fill="none"/>
<path d="M568.2,2380.2V2416.2M561.7,2380.2H574.7M561.7,2416.2H574.7" stroke="#111" stroke-width="2.6" fill="none"/>
<path d="M583.6,2389.6V2429.6M577.1,2389.6H590.1M577.1,2429.6H590.1" stroke="#111" stroke-width="2.6" fill="none"/>
<path d="M599,2391.7V2433.7M592.5,2391.7H605.5M592.5,2433.7H605.5" stroke="#111" stroke-width="2.6" fill="none"/>
<path d="M614.4,2401.2V2443.2M607.9,2401.2H620.9M607.9,2443.2H620.9" stroke="#111" stroke-width="2.6" fill="none"/>
<path d="M629.8,2403.3V2447.3M623.3,2403.3H636.3M623.3,2447.3H636.3" stroke="#111" stroke-width="2.6" fill="none"/>
<path d="M645.2,2420.3V2464.3M638.7,2420.3H651.7M638.7,2464.3H651.7" stroke="#111" stroke-width="2.6" fill="none"/>
<path d="M660.6,2430V2476M654.1,2430H667.1M654.1,2476H667.1" stroke="#111" stroke-width="2.6" fill="none"/>
<path d="M676,2436.5V2483.5M669.5,2436.5H682.5M669.5,2483.5H682.5" stroke="#111" stroke-width="2.6" fill="none"/>
<path d="M691.4,2450.3V2497.3M684.9,2450.3H697.9M684.9,2497.3H697.9" stroke="#111" stroke-width="2.6" fill="none"/>
<path d="M706.8,2464.8V2511.8M700.3,2464.8H713.3M700.3,2511.8H713.3" stroke="#111" stroke-width="2.6" fill="none"/>
<path d="M722.2,2464.8V2511.8M715.7,2464.8H728.7M715.7,2511.8H728.7" stroke="#111" stroke-width="2.6" fill="none"/>
<path d="M737.6,2472.3V2519.3M731.1,2472.3H744.1M731.1,2519.3H744.1" stroke="#111" stroke-width="2.6" fill="none"/>
<path d="M753,2483.6V2530.6M746.5,2483.6H759.5M746.5,2530.6H759.5" stroke="#111" stroke-width="2.6" fill="none"/>
<path d="M768.4,2499.4V2546.4M761.9,2499.4H774.9M761.9,2546.4H774.9" stroke="#111" stroke-width="2.6" fill="none"/>
<path d="M783.8,2513.2V2560.2M777.3,2513.2H790.3M777.3,2560.2H790.3" stroke="#111" stroke-width="2.6" fill="none"/>
<path d="M799.2,2527.7V2574.7M792.7,2527.7H805.7M792.7,2574.7H805.7" stroke="#111" stroke-width="2.6" fill="none"/>
<path d="M814.6,2532.1V2579.1M808.1,2532.1H821.1M808.1,2579.1H821.1" stroke="#111" stroke-width="2.6" fill="none"/>
<path d="M830,2544V2590M823.5,2544H836.5M823.5,2590H836.5" stroke="#111" stroke-width="2.6" fill="none"/>
<path d="M845.4,2556.7V2598.7M838.9,2556.7H851.9M838.9,2598.7H851.9" stroke="#111" stroke-width="2.6" fill="none"/>
<path d="M860.8,2570.2V2610.2M854.3,2570.2H867.3M854.3,2610.2H867.3" stroke="#111" stroke-width="2.6" fill="none"/>
<circle cx="214" cy="2160.5" r="5.3" fill="#fff" stroke="#111" stroke-width="2.2"/>
<circle cx="229.4" cy="2160.5" r="5.3" fill="#fff" stroke="#111" stroke-width="2.2"/>
<circle cx="244.8" cy="2160.5" r="5.3" fill="#fff" stroke="#111" stroke-width="2.2"/>
<circle cx="260.2" cy="2160.5" r="5.3" fill="#fff" stroke="#111" stroke-width="2.2"/>
<circle cx="275.6" cy="2160.5" r="5.3" fill="#fff" stroke="#111" stroke-width="2.2"/>
<circle cx="291" cy="2160.5" r="5.3" fill="#fff" stroke="#111" stroke-width="2.2"/>
<circle cx="306.4" cy="2160.5" r="5.3" fill="#fff" stroke="#111" stroke-width="2.2"/>
<circle cx="321.8" cy="2160.5" r="5.3" fill="#fff" stroke="#111" stroke-width="2.2"/>
<circle cx="337.2" cy="2160.5" r="5.3" fill="#fff" stroke="#111" stroke-width="2.2"/>
<circle cx="352.6" cy="2160.5" r="5.3" fill="#fff" stroke="#111" stroke-width="2.2"/>
<circle cx="368" cy="2160.5" r="5.3" fill="#fff" stroke="#111" stroke-width="2.2"/>
<circle cx="383.4" cy="2165.1" r="5.3" fill="#fff" stroke="#111" stroke-width="2.2"/>
<circle cx="398.8" cy="2200.2" r="5.3" fill="#fff" stroke="#111" stroke-width="2.2"/>
<circle cx="414.2" cy="2229.2" r="5.3" fill="#fff" stroke="#111" stroke-width="2.2"/>
<circle cx="429.6" cy="2258" r="5.3" fill="#fff" stroke="#111" stroke-width="2.2"/>
<circle cx="445" cy="2273.6" r="5.3" fill="#fff" stroke="#111" stroke-width="2.2"/>
<circle cx="460.4" cy="2286.2" r="5.3" fill="#fff" stroke="#111" stroke-width="2.2"/>
<circle cx="475.8" cy="2307" r="5.3" fill="#fff" stroke="#111" stroke-width="2.2"/>
<circle cx="491.2" cy="2329" r="5.3" fill="#fff" stroke="#111" stroke-width="2.2"/>
<circle cx="506.6" cy="2349.8" r="5.3" fill="#fff" stroke="#111" stroke-width="2.2"/>
<circle cx="522" cy="2365.5" r="5.3" fill="#fff" stroke="#111" stroke-width="2.2"/>
<circle cx="537.4" cy="2378.1" r="5.3" fill="#fff" stroke="#111" stroke-width="2.2"/>
<circle cx="552.8" cy="2390.7" r="5.3" fill="#fff" stroke="#111" stroke-width="2.2"/>
<circle cx="568.2" cy="2398.2" r="5.3" fill="#fff" stroke="#111" stroke-width="2.2"/>
<circle cx="583.6" cy="2409.6" r="5.3" fill="#fff" stroke="#111" stroke-width="2.2"/>
<circle cx="599" cy="2412.7" r="5.3" fill="#fff" stroke="#111" stroke-width="2.2"/>
<circle cx="614.4" cy="2422.2" r="5.3" fill="#fff" stroke="#111" stroke-width="2.2"/>
<circle cx="629.8" cy="2425.3" r="5.3" fill="#fff" stroke="#111" stroke-width="2.2"/>
<circle cx="645.2" cy="2442.3" r="5.3" fill="#fff" stroke="#111" stroke-width="2.2"/>
<circle cx="660.6" cy="2453" r="5.3" fill="#fff" stroke="#111" stroke-width="2.2"/>
<circle cx="676" cy="2460" r="5.3" fill="#fff" stroke="#111" stroke-width="2.2"/>
<circle cx="691.4" cy="2473.8" r="5.3" fill="#fff" stroke="#111" stroke-width="2.2"/>
<circle cx="706.8" cy="2488.3" r="5.3" fill="#fff" stroke="#111" stroke-width="2.2"/>
<circle cx="722.2" cy="2488.3" r="5.3" fill="#fff" stroke="#111" stroke-width="2.2"/>
<circle cx="737.6" cy="2495.8" r="5.3" fill="#fff" stroke="#111" stroke-width="2.2"/>
<circle cx="753" cy="2507.1" r="5.3" fill="#fff" stroke="#111" stroke-width="2.2"/>
<circle cx="768.4" cy="2522.9" r="5.3" fill="#fff" stroke="#111" stroke-width="2.2"/>
<circle cx="783.8" cy="2536.7" r="5.3" fill="#fff" stroke="#111" stroke-width="2.2"/>
<circle cx="799.2" cy="2551.2" r="5.3" fill="#fff" stroke="#111" stroke-width="2.2"/>
<circle cx="814.6" cy="2555.6" r="5.3" fill="#fff" stroke="#111" stroke-width="2.2"/>
<circle cx="830" cy="2567" r="5.3" fill="#fff" stroke="#111" stroke-width="2.2"/>
<circle cx="845.4" cy="2577.7" r="5.3" fill="#fff" stroke="#111" stroke-width="2.2"/>
<circle cx="860.8" cy="2590.2" r="5.3" fill="#fff" stroke="#111" stroke-width="2.2"/>
<line x1="237.2" y1="2006.8" x2="294.8" y2="2006.8" stroke="#222" stroke-width="2.6" />
<circle cx="266.1" cy="2006.8" r="5.5" fill="#fff" stroke="#222" stroke-width="2.3"/>
<line x1="237.2" y1="2060.3" x2="294.8" y2="2060.3" stroke="#1010f0" stroke-width="2.6" />
<circle cx="266.1" cy="2060.3" r="5.5" fill="#fff" stroke="#1010f0" stroke-width="2.3"/>
<text x="326" y="2022.7" font-size="48.5" font-family="'Liberation Serif','Times New Roman',serif" text-anchor="start" fill="#000" >Control</text>
<text x="326" y="2075.6" font-size="48.5" font-family="'Liberation Serif','Times New Roman',serif" text-anchor="start" fill="#000" >GP-17</text>
<text x="867" y="2256" font-size="40" font-family="'Liberation Serif','Times New Roman',serif" text-anchor="middle" fill="#222" font-weight="bold" letter-spacing="1">***</text>
<text x="372.6" y="2268.6" font-size="39" font-family="'Liberation Serif','Times New Roman',serif" text-anchor="middle" fill="#000" transform="rotate(-90 372.6 2268.6)" >4-AP</text>
<path d="M361,2217.8V2184M351.5,2193.5L361,2182.5L370.5,2193.5" stroke="#111" stroke-width="2.5" fill="none" stroke-linejoin="miter"/><path d="M361,2181.5L357,2189L365,2189Z" fill="#111"/>
</svg></body></html>
